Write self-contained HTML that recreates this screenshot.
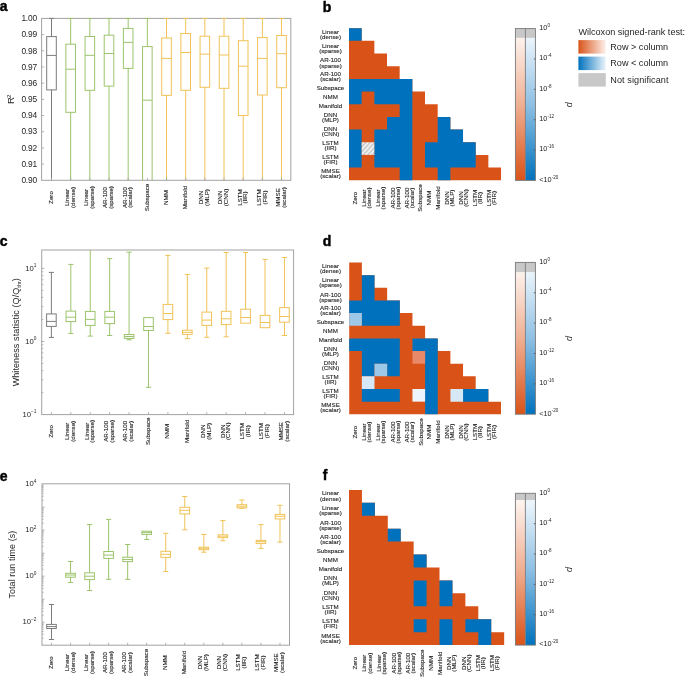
<!DOCTYPE html>
<html><head><meta charset="utf-8"><style>
html,body{margin:0;padding:0;background:#fff;width:685px;height:679px;overflow:hidden}
svg{display:block;font-family:"Liberation Sans", sans-serif;will-change:transform}
</style></head><body>
<svg width="685" height="679" viewBox="0 0 685 679">
<clipPath id="ca"><rect x="41.6" y="18.4" width="249.20000000000002" height="161.9"/></clipPath>
<g clip-path="url(#ca)" fill="none" stroke-width="1">
<line x1="51.50" y1="13.40" x2="51.50" y2="36.60" stroke="#7c7c7c"/>
<line x1="48.90" y1="13.40" x2="54.10" y2="13.40" stroke="#7c7c7c"/>
<line x1="51.50" y1="89.90" x2="51.50" y2="185.30" stroke="#7c7c7c"/>
<line x1="48.90" y1="185.30" x2="54.10" y2="185.30" stroke="#7c7c7c"/>
<rect x="46.70" y="36.60" width="9.60" height="53.30" stroke="#7c7c7c"/>
<line x1="46.70" y1="55.40" x2="56.30" y2="55.40" stroke="#7c7c7c"/>
<line x1="70.67" y1="13.40" x2="70.67" y2="44.20" stroke="#9cc46c"/>
<line x1="68.07" y1="13.40" x2="73.27" y2="13.40" stroke="#9cc46c"/>
<line x1="70.67" y1="112.30" x2="70.67" y2="185.30" stroke="#9cc46c"/>
<line x1="68.07" y1="185.30" x2="73.27" y2="185.30" stroke="#9cc46c"/>
<rect x="65.87" y="44.20" width="9.60" height="68.10" stroke="#9cc46c"/>
<line x1="65.87" y1="69.20" x2="75.47" y2="69.20" stroke="#9cc46c"/>
<line x1="89.84" y1="13.40" x2="89.84" y2="36.50" stroke="#9cc46c"/>
<line x1="87.24" y1="13.40" x2="92.44" y2="13.40" stroke="#9cc46c"/>
<line x1="89.84" y1="90.30" x2="89.84" y2="185.30" stroke="#9cc46c"/>
<line x1="87.24" y1="185.30" x2="92.44" y2="185.30" stroke="#9cc46c"/>
<rect x="85.04" y="36.50" width="9.60" height="53.80" stroke="#9cc46c"/>
<line x1="85.04" y1="55.30" x2="94.64" y2="55.30" stroke="#9cc46c"/>
<line x1="109.01" y1="13.40" x2="109.01" y2="35.20" stroke="#9cc46c"/>
<line x1="106.41" y1="13.40" x2="111.61" y2="13.40" stroke="#9cc46c"/>
<line x1="109.01" y1="86.10" x2="109.01" y2="185.30" stroke="#9cc46c"/>
<line x1="106.41" y1="185.30" x2="111.61" y2="185.30" stroke="#9cc46c"/>
<rect x="104.21" y="35.20" width="9.60" height="50.90" stroke="#9cc46c"/>
<line x1="104.21" y1="53.50" x2="113.81" y2="53.50" stroke="#9cc46c"/>
<line x1="128.18" y1="13.40" x2="128.18" y2="28.40" stroke="#9cc46c"/>
<line x1="125.58" y1="13.40" x2="130.78" y2="13.40" stroke="#9cc46c"/>
<line x1="128.18" y1="68.40" x2="128.18" y2="185.30" stroke="#9cc46c"/>
<line x1="125.58" y1="185.30" x2="130.78" y2="185.30" stroke="#9cc46c"/>
<rect x="123.38" y="28.40" width="9.60" height="40.00" stroke="#9cc46c"/>
<line x1="123.38" y1="42.40" x2="132.98" y2="42.40" stroke="#9cc46c"/>
<line x1="147.35" y1="13.40" x2="147.35" y2="46.60" stroke="#9cc46c"/>
<line x1="144.75" y1="13.40" x2="149.95" y2="13.40" stroke="#9cc46c"/>
<line x1="147.35" y1="200.00" x2="147.35" y2="185.30" stroke="#9cc46c"/>
<line x1="144.75" y1="185.30" x2="149.95" y2="185.30" stroke="#9cc46c"/>
<rect x="142.55" y="46.60" width="9.60" height="153.40" stroke="#9cc46c"/>
<line x1="142.55" y1="100.20" x2="152.15" y2="100.20" stroke="#9cc46c"/>
<line x1="166.52" y1="13.40" x2="166.52" y2="38.00" stroke="#f0c257"/>
<line x1="163.92" y1="13.40" x2="169.12" y2="13.40" stroke="#f0c257"/>
<line x1="166.52" y1="95.40" x2="166.52" y2="185.30" stroke="#f0c257"/>
<line x1="163.92" y1="185.30" x2="169.12" y2="185.30" stroke="#f0c257"/>
<rect x="161.72" y="38.00" width="9.60" height="57.40" stroke="#f0c257"/>
<line x1="161.72" y1="58.40" x2="171.32" y2="58.40" stroke="#f0c257"/>
<line x1="185.69" y1="13.40" x2="185.69" y2="33.50" stroke="#f0c257"/>
<line x1="183.09" y1="13.40" x2="188.29" y2="13.40" stroke="#f0c257"/>
<line x1="185.69" y1="90.30" x2="185.69" y2="185.30" stroke="#f0c257"/>
<line x1="183.09" y1="185.30" x2="188.29" y2="185.30" stroke="#f0c257"/>
<rect x="180.89" y="33.50" width="9.60" height="56.80" stroke="#f0c257"/>
<line x1="180.89" y1="52.50" x2="190.49" y2="52.50" stroke="#f0c257"/>
<line x1="204.86" y1="13.40" x2="204.86" y2="36.20" stroke="#f0c257"/>
<line x1="202.26" y1="13.40" x2="207.46" y2="13.40" stroke="#f0c257"/>
<line x1="204.86" y1="87.30" x2="204.86" y2="185.30" stroke="#f0c257"/>
<line x1="202.26" y1="185.30" x2="207.46" y2="185.30" stroke="#f0c257"/>
<rect x="200.06" y="36.20" width="9.60" height="51.10" stroke="#f0c257"/>
<line x1="200.06" y1="54.10" x2="209.66" y2="54.10" stroke="#f0c257"/>
<line x1="224.03" y1="13.40" x2="224.03" y2="36.20" stroke="#f0c257"/>
<line x1="221.43" y1="13.40" x2="226.63" y2="13.40" stroke="#f0c257"/>
<line x1="224.03" y1="88.30" x2="224.03" y2="185.30" stroke="#f0c257"/>
<line x1="221.43" y1="185.30" x2="226.63" y2="185.30" stroke="#f0c257"/>
<rect x="219.23" y="36.20" width="9.60" height="52.10" stroke="#f0c257"/>
<line x1="219.23" y1="55.00" x2="228.83" y2="55.00" stroke="#f0c257"/>
<line x1="243.20" y1="13.40" x2="243.20" y2="40.70" stroke="#f0c257"/>
<line x1="240.60" y1="13.40" x2="245.80" y2="13.40" stroke="#f0c257"/>
<line x1="243.20" y1="115.50" x2="243.20" y2="185.30" stroke="#f0c257"/>
<line x1="240.60" y1="185.30" x2="245.80" y2="185.30" stroke="#f0c257"/>
<rect x="238.40" y="40.70" width="9.60" height="74.80" stroke="#f0c257"/>
<line x1="238.40" y1="66.20" x2="248.00" y2="66.20" stroke="#f0c257"/>
<line x1="262.37" y1="13.40" x2="262.37" y2="37.60" stroke="#f0c257"/>
<line x1="259.77" y1="13.40" x2="264.97" y2="13.40" stroke="#f0c257"/>
<line x1="262.37" y1="95.00" x2="262.37" y2="185.30" stroke="#f0c257"/>
<line x1="259.77" y1="185.30" x2="264.97" y2="185.30" stroke="#f0c257"/>
<rect x="257.57" y="37.60" width="9.60" height="57.40" stroke="#f0c257"/>
<line x1="257.57" y1="58.40" x2="267.17" y2="58.40" stroke="#f0c257"/>
<line x1="281.54" y1="13.40" x2="281.54" y2="35.50" stroke="#f0c257"/>
<line x1="278.94" y1="13.40" x2="284.14" y2="13.40" stroke="#f0c257"/>
<line x1="281.54" y1="87.70" x2="281.54" y2="185.30" stroke="#f0c257"/>
<line x1="278.94" y1="185.30" x2="284.14" y2="185.30" stroke="#f0c257"/>
<rect x="276.74" y="35.50" width="9.60" height="52.20" stroke="#f0c257"/>
<line x1="276.74" y1="53.70" x2="286.34" y2="53.70" stroke="#f0c257"/>
</g>
<rect x="41.6" y="18.4" width="249.20000000000002" height="161.9" fill="none" stroke="#a2a2a2" stroke-width="1"/>
<line x1="51.50" y1="180.3" x2="51.50" y2="177.8" stroke="#a2a2a2" stroke-width="0.8"/>
<line x1="70.67" y1="180.3" x2="70.67" y2="177.8" stroke="#a2a2a2" stroke-width="0.8"/>
<line x1="89.84" y1="180.3" x2="89.84" y2="177.8" stroke="#a2a2a2" stroke-width="0.8"/>
<line x1="109.01" y1="180.3" x2="109.01" y2="177.8" stroke="#a2a2a2" stroke-width="0.8"/>
<line x1="128.18" y1="180.3" x2="128.18" y2="177.8" stroke="#a2a2a2" stroke-width="0.8"/>
<line x1="147.35" y1="180.3" x2="147.35" y2="177.8" stroke="#a2a2a2" stroke-width="0.8"/>
<line x1="166.52" y1="180.3" x2="166.52" y2="177.8" stroke="#a2a2a2" stroke-width="0.8"/>
<line x1="185.69" y1="180.3" x2="185.69" y2="177.8" stroke="#a2a2a2" stroke-width="0.8"/>
<line x1="204.86" y1="180.3" x2="204.86" y2="177.8" stroke="#a2a2a2" stroke-width="0.8"/>
<line x1="224.03" y1="180.3" x2="224.03" y2="177.8" stroke="#a2a2a2" stroke-width="0.8"/>
<line x1="243.20" y1="180.3" x2="243.20" y2="177.8" stroke="#a2a2a2" stroke-width="0.8"/>
<line x1="262.37" y1="180.3" x2="262.37" y2="177.8" stroke="#a2a2a2" stroke-width="0.8"/>
<line x1="281.54" y1="180.3" x2="281.54" y2="177.8" stroke="#a2a2a2" stroke-width="0.8"/>
<line x1="48.90" y1="18.40" x2="54.10" y2="18.40" stroke="#7c7c7c" stroke-width="1"/>
<line x1="68.07" y1="18.40" x2="73.27" y2="18.40" stroke="#9cc46c" stroke-width="1"/>
<line x1="87.24" y1="18.40" x2="92.44" y2="18.40" stroke="#9cc46c" stroke-width="1"/>
<line x1="106.41" y1="18.40" x2="111.61" y2="18.40" stroke="#9cc46c" stroke-width="1"/>
<line x1="125.58" y1="18.40" x2="130.78" y2="18.40" stroke="#9cc46c" stroke-width="1"/>
<line x1="144.75" y1="18.40" x2="149.95" y2="18.40" stroke="#9cc46c" stroke-width="1"/>
<line x1="163.92" y1="18.40" x2="169.12" y2="18.40" stroke="#f0c257" stroke-width="1"/>
<line x1="183.09" y1="18.40" x2="188.29" y2="18.40" stroke="#f0c257" stroke-width="1"/>
<line x1="202.26" y1="18.40" x2="207.46" y2="18.40" stroke="#f0c257" stroke-width="1"/>
<line x1="221.43" y1="18.40" x2="226.63" y2="18.40" stroke="#f0c257" stroke-width="1"/>
<line x1="240.60" y1="18.40" x2="245.80" y2="18.40" stroke="#f0c257" stroke-width="1"/>
<line x1="259.77" y1="18.40" x2="264.97" y2="18.40" stroke="#f0c257" stroke-width="1"/>
<line x1="278.94" y1="18.40" x2="284.14" y2="18.40" stroke="#f0c257" stroke-width="1"/>
<text x="36.90" y="21.15" font-size="8.4" text-anchor="end" font-weight="normal" fill="#262626" letter-spacing="-0.2">1.00</text>
<line x1="41.6" y1="34.59" x2="44.2" y2="34.59" stroke="#a2a2a2" stroke-width="0.8"/>
<text x="36.90" y="37.34" font-size="8.4" text-anchor="end" font-weight="normal" fill="#262626" letter-spacing="-0.2">0.99</text>
<line x1="41.6" y1="50.78" x2="44.2" y2="50.78" stroke="#a2a2a2" stroke-width="0.8"/>
<text x="36.90" y="53.53" font-size="8.4" text-anchor="end" font-weight="normal" fill="#262626" letter-spacing="-0.2">0.98</text>
<line x1="41.6" y1="66.97" x2="44.2" y2="66.97" stroke="#a2a2a2" stroke-width="0.8"/>
<text x="36.90" y="69.72" font-size="8.4" text-anchor="end" font-weight="normal" fill="#262626" letter-spacing="-0.2">0.97</text>
<line x1="41.6" y1="83.16" x2="44.2" y2="83.16" stroke="#a2a2a2" stroke-width="0.8"/>
<text x="36.90" y="85.91" font-size="8.4" text-anchor="end" font-weight="normal" fill="#262626" letter-spacing="-0.2">0.96</text>
<line x1="41.6" y1="99.35" x2="44.2" y2="99.35" stroke="#a2a2a2" stroke-width="0.8"/>
<text x="36.90" y="102.10" font-size="8.4" text-anchor="end" font-weight="normal" fill="#262626" letter-spacing="-0.2">0.95</text>
<line x1="41.6" y1="115.54" x2="44.2" y2="115.54" stroke="#a2a2a2" stroke-width="0.8"/>
<text x="36.90" y="118.29" font-size="8.4" text-anchor="end" font-weight="normal" fill="#262626" letter-spacing="-0.2">0.94</text>
<line x1="41.6" y1="131.73" x2="44.2" y2="131.73" stroke="#a2a2a2" stroke-width="0.8"/>
<text x="36.90" y="134.48" font-size="8.4" text-anchor="end" font-weight="normal" fill="#262626" letter-spacing="-0.2">0.93</text>
<line x1="41.6" y1="147.92" x2="44.2" y2="147.92" stroke="#a2a2a2" stroke-width="0.8"/>
<text x="36.90" y="150.67" font-size="8.4" text-anchor="end" font-weight="normal" fill="#262626" letter-spacing="-0.2">0.92</text>
<line x1="41.6" y1="164.11" x2="44.2" y2="164.11" stroke="#a2a2a2" stroke-width="0.8"/>
<text x="36.90" y="166.86" font-size="8.4" text-anchor="end" font-weight="normal" fill="#262626" letter-spacing="-0.2">0.91</text>
<text x="36.90" y="183.05" font-size="8.4" text-anchor="end" font-weight="normal" fill="#262626" letter-spacing="-0.2">0.90</text>
<text x="14.30" y="99.30" font-size="9.5" text-anchor="middle" font-weight="normal" fill="#262626" transform="rotate(-90 14.3 99.3)">R<tspan font-size="6.2" dx="-1" dy="-3.3">2</tspan></text>
<text x="52.74" y="197.50" font-size="6.2" text-anchor="middle" font-weight="normal" fill="#262626" transform="rotate(-90 52.74 197.5)" stroke="#262626" stroke-width="0.12">Zero</text>
<text x="69.01" y="197.50" font-size="6.2" text-anchor="middle" font-weight="normal" fill="#262626" transform="rotate(-90 69.00999999999999 197.5)" stroke="#262626" stroke-width="0.12">Linear</text>
<text x="74.81" y="197.50" font-size="6.2" text-anchor="middle" font-weight="normal" fill="#262626" transform="rotate(-90 74.81 197.5)" stroke="#262626" stroke-width="0.12">(dense)</text>
<text x="88.18" y="197.50" font-size="6.2" text-anchor="middle" font-weight="normal" fill="#262626" transform="rotate(-90 88.17999999999999 197.5)" stroke="#262626" stroke-width="0.12">Linear</text>
<text x="93.98" y="197.50" font-size="6.2" text-anchor="middle" font-weight="normal" fill="#262626" transform="rotate(-90 93.98 197.5)" stroke="#262626" stroke-width="0.12">(sparse)</text>
<text x="107.35" y="197.50" font-size="6.2" text-anchor="middle" font-weight="normal" fill="#262626" transform="rotate(-90 107.35 197.5)" stroke="#262626" stroke-width="0.12">AR-100</text>
<text x="113.15" y="197.50" font-size="6.2" text-anchor="middle" font-weight="normal" fill="#262626" transform="rotate(-90 113.15 197.5)" stroke="#262626" stroke-width="0.12">(sparse)</text>
<text x="126.52" y="197.50" font-size="6.2" text-anchor="middle" font-weight="normal" fill="#262626" transform="rotate(-90 126.52 197.5)" stroke="#262626" stroke-width="0.12">AR-100</text>
<text x="132.32" y="197.50" font-size="6.2" text-anchor="middle" font-weight="normal" fill="#262626" transform="rotate(-90 132.32000000000002 197.5)" stroke="#262626" stroke-width="0.12">(scalar)</text>
<text x="148.59" y="197.50" font-size="6.2" text-anchor="middle" font-weight="normal" fill="#262626" transform="rotate(-90 148.59000000000003 197.5)" stroke="#262626" stroke-width="0.12">Subspace</text>
<text x="167.76" y="197.50" font-size="6.2" text-anchor="middle" font-weight="normal" fill="#262626" transform="rotate(-90 167.76000000000002 197.5)" stroke="#262626" stroke-width="0.12">NMM</text>
<text x="186.93" y="197.50" font-size="6.2" text-anchor="middle" font-weight="normal" fill="#262626" transform="rotate(-90 186.93 197.5)" stroke="#262626" stroke-width="0.12">Manifold</text>
<text x="203.20" y="197.50" font-size="6.2" text-anchor="middle" font-weight="normal" fill="#262626" transform="rotate(-90 203.20000000000002 197.5)" stroke="#262626" stroke-width="0.12">DNN</text>
<text x="209.00" y="197.50" font-size="6.2" text-anchor="middle" font-weight="normal" fill="#262626" transform="rotate(-90 209.00000000000003 197.5)" stroke="#262626" stroke-width="0.12">(MLP)</text>
<text x="222.37" y="197.50" font-size="6.2" text-anchor="middle" font-weight="normal" fill="#262626" transform="rotate(-90 222.37000000000003 197.5)" stroke="#262626" stroke-width="0.12">DNN</text>
<text x="228.17" y="197.50" font-size="6.2" text-anchor="middle" font-weight="normal" fill="#262626" transform="rotate(-90 228.17000000000004 197.5)" stroke="#262626" stroke-width="0.12">(CNN)</text>
<text x="241.54" y="197.50" font-size="6.2" text-anchor="middle" font-weight="normal" fill="#262626" transform="rotate(-90 241.54000000000002 197.5)" stroke="#262626" stroke-width="0.12">LSTM</text>
<text x="247.34" y="197.50" font-size="6.2" text-anchor="middle" font-weight="normal" fill="#262626" transform="rotate(-90 247.34000000000003 197.5)" stroke="#262626" stroke-width="0.12">(IIR)</text>
<text x="260.71" y="197.50" font-size="6.2" text-anchor="middle" font-weight="normal" fill="#262626" transform="rotate(-90 260.71000000000004 197.5)" stroke="#262626" stroke-width="0.12">LSTM</text>
<text x="266.51" y="197.50" font-size="6.2" text-anchor="middle" font-weight="normal" fill="#262626" transform="rotate(-90 266.51 197.5)" stroke="#262626" stroke-width="0.12">(FIR)</text>
<text x="279.88" y="197.50" font-size="6.2" text-anchor="middle" font-weight="normal" fill="#262626" transform="rotate(-90 279.88000000000005 197.5)" stroke="#262626" stroke-width="0.12">MMSE</text>
<text x="285.68" y="197.50" font-size="6.2" text-anchor="middle" font-weight="normal" fill="#262626" transform="rotate(-90 285.68 197.5)" stroke="#262626" stroke-width="0.12">(scalar)</text>
<clipPath id="cc"><rect x="41.7" y="250.0" width="251.90000000000003" height="164.60000000000002"/></clipPath>
<g clip-path="url(#cc)" fill="none" stroke-width="1">
<line x1="51.40" y1="272.40" x2="51.40" y2="313.90" stroke="#7c7c7c"/>
<line x1="48.80" y1="272.40" x2="54.00" y2="272.40" stroke="#7c7c7c"/>
<line x1="51.40" y1="326.40" x2="51.40" y2="337.40" stroke="#7c7c7c"/>
<line x1="48.80" y1="337.40" x2="54.00" y2="337.40" stroke="#7c7c7c"/>
<rect x="46.60" y="313.90" width="9.60" height="12.50" stroke="#7c7c7c"/>
<line x1="46.60" y1="321.40" x2="56.20" y2="321.40" stroke="#7c7c7c"/>
<line x1="70.82" y1="264.40" x2="70.82" y2="311.10" stroke="#9cc46c"/>
<line x1="68.22" y1="264.40" x2="73.42" y2="264.40" stroke="#9cc46c"/>
<line x1="70.82" y1="321.60" x2="70.82" y2="333.40" stroke="#9cc46c"/>
<line x1="68.22" y1="333.40" x2="73.42" y2="333.40" stroke="#9cc46c"/>
<rect x="66.02" y="311.10" width="9.60" height="10.50" stroke="#9cc46c"/>
<line x1="66.02" y1="317.20" x2="75.62" y2="317.20" stroke="#9cc46c"/>
<line x1="90.24" y1="245.00" x2="90.24" y2="311.40" stroke="#9cc46c"/>
<line x1="87.64" y1="245.00" x2="92.84" y2="245.00" stroke="#9cc46c"/>
<line x1="90.24" y1="325.40" x2="90.24" y2="336.10" stroke="#9cc46c"/>
<line x1="87.64" y1="336.10" x2="92.84" y2="336.10" stroke="#9cc46c"/>
<rect x="85.44" y="311.40" width="9.60" height="14.00" stroke="#9cc46c"/>
<line x1="85.44" y1="319.40" x2="95.04" y2="319.40" stroke="#9cc46c"/>
<line x1="109.66" y1="258.60" x2="109.66" y2="311.40" stroke="#9cc46c"/>
<line x1="107.06" y1="258.60" x2="112.26" y2="258.60" stroke="#9cc46c"/>
<line x1="109.66" y1="323.60" x2="109.66" y2="335.50" stroke="#9cc46c"/>
<line x1="107.06" y1="335.50" x2="112.26" y2="335.50" stroke="#9cc46c"/>
<rect x="104.86" y="311.40" width="9.60" height="12.20" stroke="#9cc46c"/>
<line x1="104.86" y1="317.20" x2="114.46" y2="317.20" stroke="#9cc46c"/>
<line x1="129.08" y1="252.20" x2="129.08" y2="334.50" stroke="#9cc46c"/>
<line x1="126.48" y1="252.20" x2="131.68" y2="252.20" stroke="#9cc46c"/>
<line x1="129.08" y1="338.40" x2="129.08" y2="339.80" stroke="#9cc46c"/>
<line x1="126.48" y1="339.80" x2="131.68" y2="339.80" stroke="#9cc46c"/>
<rect x="124.28" y="334.50" width="9.60" height="3.90" stroke="#9cc46c"/>
<line x1="124.28" y1="336.50" x2="133.88" y2="336.50" stroke="#9cc46c"/>
<line x1="148.50" y1="330.50" x2="148.50" y2="387.30" stroke="#9cc46c"/>
<line x1="145.90" y1="387.30" x2="151.10" y2="387.30" stroke="#9cc46c"/>
<rect x="143.70" y="317.60" width="9.60" height="12.90" stroke="#9cc46c"/>
<line x1="143.70" y1="326.50" x2="153.30" y2="326.50" stroke="#9cc46c"/>
<line x1="167.92" y1="255.40" x2="167.92" y2="304.40" stroke="#f0c257"/>
<line x1="165.32" y1="255.40" x2="170.52" y2="255.40" stroke="#f0c257"/>
<line x1="167.92" y1="319.60" x2="167.92" y2="333.30" stroke="#f0c257"/>
<line x1="165.32" y1="333.30" x2="170.52" y2="333.30" stroke="#f0c257"/>
<rect x="163.12" y="304.40" width="9.60" height="15.20" stroke="#f0c257"/>
<line x1="163.12" y1="313.50" x2="172.72" y2="313.50" stroke="#f0c257"/>
<line x1="187.34" y1="274.50" x2="187.34" y2="330.20" stroke="#f0c257"/>
<line x1="184.74" y1="274.50" x2="189.94" y2="274.50" stroke="#f0c257"/>
<line x1="187.34" y1="334.40" x2="187.34" y2="338.60" stroke="#f0c257"/>
<line x1="184.74" y1="338.60" x2="189.94" y2="338.60" stroke="#f0c257"/>
<rect x="182.54" y="330.20" width="9.60" height="4.20" stroke="#f0c257"/>
<line x1="182.54" y1="332.30" x2="192.14" y2="332.30" stroke="#f0c257"/>
<line x1="206.76" y1="268.10" x2="206.76" y2="312.10" stroke="#f0c257"/>
<line x1="204.16" y1="268.10" x2="209.36" y2="268.10" stroke="#f0c257"/>
<line x1="206.76" y1="325.40" x2="206.76" y2="337.30" stroke="#f0c257"/>
<line x1="204.16" y1="337.30" x2="209.36" y2="337.30" stroke="#f0c257"/>
<rect x="201.96" y="312.10" width="9.60" height="13.30" stroke="#f0c257"/>
<line x1="201.96" y1="320.10" x2="211.56" y2="320.10" stroke="#f0c257"/>
<line x1="226.18" y1="252.50" x2="226.18" y2="311.30" stroke="#f0c257"/>
<line x1="223.58" y1="252.50" x2="228.78" y2="252.50" stroke="#f0c257"/>
<line x1="226.18" y1="324.60" x2="226.18" y2="336.80" stroke="#f0c257"/>
<line x1="223.58" y1="336.80" x2="228.78" y2="336.80" stroke="#f0c257"/>
<rect x="221.38" y="311.30" width="9.60" height="13.30" stroke="#f0c257"/>
<line x1="221.38" y1="318.80" x2="230.98" y2="318.80" stroke="#f0c257"/>
<line x1="245.60" y1="252.50" x2="245.60" y2="309.20" stroke="#f0c257"/>
<line x1="243.00" y1="252.50" x2="248.20" y2="252.50" stroke="#f0c257"/>
<rect x="240.80" y="309.20" width="9.60" height="14.00" stroke="#f0c257"/>
<line x1="240.80" y1="317.50" x2="250.40" y2="317.50" stroke="#f0c257"/>
<line x1="265.02" y1="259.40" x2="265.02" y2="315.40" stroke="#f0c257"/>
<line x1="262.42" y1="259.40" x2="267.62" y2="259.40" stroke="#f0c257"/>
<rect x="260.22" y="315.40" width="9.60" height="12.30" stroke="#f0c257"/>
<line x1="260.22" y1="322.50" x2="269.82" y2="322.50" stroke="#f0c257"/>
<line x1="284.44" y1="257.50" x2="284.44" y2="307.60" stroke="#f0c257"/>
<line x1="281.84" y1="257.50" x2="287.04" y2="257.50" stroke="#f0c257"/>
<line x1="284.44" y1="322.20" x2="284.44" y2="335.50" stroke="#f0c257"/>
<line x1="281.84" y1="335.50" x2="287.04" y2="335.50" stroke="#f0c257"/>
<rect x="279.64" y="307.60" width="9.60" height="14.60" stroke="#f0c257"/>
<line x1="279.64" y1="316.50" x2="289.24" y2="316.50" stroke="#f0c257"/>
</g>
<rect x="41.7" y="250.0" width="251.90000000000003" height="164.60000000000002" fill="none" stroke="#a2a2a2" stroke-width="1"/>
<line x1="51.40" y1="414.6" x2="51.40" y2="412.1" stroke="#a2a2a2" stroke-width="0.8"/>
<line x1="70.82" y1="414.6" x2="70.82" y2="412.1" stroke="#a2a2a2" stroke-width="0.8"/>
<line x1="90.24" y1="414.6" x2="90.24" y2="412.1" stroke="#a2a2a2" stroke-width="0.8"/>
<line x1="109.66" y1="414.6" x2="109.66" y2="412.1" stroke="#a2a2a2" stroke-width="0.8"/>
<line x1="129.08" y1="414.6" x2="129.08" y2="412.1" stroke="#a2a2a2" stroke-width="0.8"/>
<line x1="148.50" y1="414.6" x2="148.50" y2="412.1" stroke="#a2a2a2" stroke-width="0.8"/>
<line x1="167.92" y1="414.6" x2="167.92" y2="412.1" stroke="#a2a2a2" stroke-width="0.8"/>
<line x1="187.34" y1="414.6" x2="187.34" y2="412.1" stroke="#a2a2a2" stroke-width="0.8"/>
<line x1="206.76" y1="414.6" x2="206.76" y2="412.1" stroke="#a2a2a2" stroke-width="0.8"/>
<line x1="226.18" y1="414.6" x2="226.18" y2="412.1" stroke="#a2a2a2" stroke-width="0.8"/>
<line x1="245.60" y1="414.6" x2="245.60" y2="412.1" stroke="#a2a2a2" stroke-width="0.8"/>
<line x1="265.02" y1="414.6" x2="265.02" y2="412.1" stroke="#a2a2a2" stroke-width="0.8"/>
<line x1="284.44" y1="414.6" x2="284.44" y2="412.1" stroke="#a2a2a2" stroke-width="0.8"/>
<line x1="41.7" y1="392.59" x2="43.300000000000004" y2="392.59" stroke="#a2a2a2" stroke-width="0.8"/>
<line x1="41.7" y1="379.72" x2="43.300000000000004" y2="379.72" stroke="#a2a2a2" stroke-width="0.8"/>
<line x1="41.7" y1="370.59" x2="43.300000000000004" y2="370.59" stroke="#a2a2a2" stroke-width="0.8"/>
<line x1="41.7" y1="363.51" x2="43.300000000000004" y2="363.51" stroke="#a2a2a2" stroke-width="0.8"/>
<line x1="41.7" y1="357.72" x2="43.300000000000004" y2="357.72" stroke="#a2a2a2" stroke-width="0.8"/>
<line x1="41.7" y1="352.82" x2="43.300000000000004" y2="352.82" stroke="#a2a2a2" stroke-width="0.8"/>
<line x1="41.7" y1="348.58" x2="43.300000000000004" y2="348.58" stroke="#a2a2a2" stroke-width="0.8"/>
<line x1="41.7" y1="344.84" x2="43.300000000000004" y2="344.84" stroke="#a2a2a2" stroke-width="0.8"/>
<line x1="41.7" y1="341.50" x2="44.300000000000004" y2="341.50" stroke="#a2a2a2" stroke-width="0.8"/>
<line x1="41.7" y1="319.49" x2="43.300000000000004" y2="319.49" stroke="#a2a2a2" stroke-width="0.8"/>
<line x1="41.7" y1="306.62" x2="43.300000000000004" y2="306.62" stroke="#a2a2a2" stroke-width="0.8"/>
<line x1="41.7" y1="297.49" x2="43.300000000000004" y2="297.49" stroke="#a2a2a2" stroke-width="0.8"/>
<line x1="41.7" y1="290.41" x2="43.300000000000004" y2="290.41" stroke="#a2a2a2" stroke-width="0.8"/>
<line x1="41.7" y1="284.62" x2="43.300000000000004" y2="284.62" stroke="#a2a2a2" stroke-width="0.8"/>
<line x1="41.7" y1="279.72" x2="43.300000000000004" y2="279.72" stroke="#a2a2a2" stroke-width="0.8"/>
<line x1="41.7" y1="275.48" x2="43.300000000000004" y2="275.48" stroke="#a2a2a2" stroke-width="0.8"/>
<line x1="41.7" y1="271.74" x2="43.300000000000004" y2="271.74" stroke="#a2a2a2" stroke-width="0.8"/>
<line x1="41.7" y1="268.40" x2="44.300000000000004" y2="268.40" stroke="#a2a2a2" stroke-width="0.8"/>
<text x="36.50" y="270.60" font-size="7.7" text-anchor="end" font-weight="normal" fill="#262626">10<tspan font-size="4.8" dy="-3.4">1</tspan></text>
<text x="36.50" y="343.70" font-size="7.7" text-anchor="end" font-weight="normal" fill="#262626">10<tspan font-size="4.8" dy="-3.4">0</tspan></text>
<text x="36.50" y="416.80" font-size="7.7" text-anchor="end" font-weight="normal" fill="#262626">10<tspan font-size="4.8" dy="-3.4">&#8722;1</tspan></text>
<text x="18.70" y="332.20" font-size="9.0" text-anchor="middle" font-weight="normal" fill="#262626" transform="rotate(-90 18.7 332.2)" letter-spacing="0.09">Whiteness statistic (Q/Q<tspan font-size="5.4" dy="1.8">thr</tspan><tspan dy="-1.8">)</tspan></text>
<text x="52.64" y="431.30" font-size="6.2" text-anchor="middle" font-weight="normal" fill="#262626" transform="rotate(-90 52.64 431.3)" stroke="#262626" stroke-width="0.12">Zero</text>
<text x="69.16" y="431.30" font-size="6.2" text-anchor="middle" font-weight="normal" fill="#262626" transform="rotate(-90 69.15999999999998 431.3)" stroke="#262626" stroke-width="0.12">Linear</text>
<text x="74.96" y="431.30" font-size="6.2" text-anchor="middle" font-weight="normal" fill="#262626" transform="rotate(-90 74.96 431.3)" stroke="#262626" stroke-width="0.12">(dense)</text>
<text x="88.58" y="431.30" font-size="6.2" text-anchor="middle" font-weight="normal" fill="#262626" transform="rotate(-90 88.58 431.3)" stroke="#262626" stroke-width="0.12">Linear</text>
<text x="94.38" y="431.30" font-size="6.2" text-anchor="middle" font-weight="normal" fill="#262626" transform="rotate(-90 94.38000000000001 431.3)" stroke="#262626" stroke-width="0.12">(sparse)</text>
<text x="108.00" y="431.30" font-size="6.2" text-anchor="middle" font-weight="normal" fill="#262626" transform="rotate(-90 107.99999999999999 431.3)" stroke="#262626" stroke-width="0.12">AR-100</text>
<text x="113.80" y="431.30" font-size="6.2" text-anchor="middle" font-weight="normal" fill="#262626" transform="rotate(-90 113.8 431.3)" stroke="#262626" stroke-width="0.12">(sparse)</text>
<text x="127.42" y="431.30" font-size="6.2" text-anchor="middle" font-weight="normal" fill="#262626" transform="rotate(-90 127.42 431.3)" stroke="#262626" stroke-width="0.12">AR-100</text>
<text x="133.22" y="431.30" font-size="6.2" text-anchor="middle" font-weight="normal" fill="#262626" transform="rotate(-90 133.22000000000003 431.3)" stroke="#262626" stroke-width="0.12">(scalar)</text>
<text x="149.74" y="431.30" font-size="6.2" text-anchor="middle" font-weight="normal" fill="#262626" transform="rotate(-90 149.74 431.3)" stroke="#262626" stroke-width="0.12">Subspace</text>
<text x="169.16" y="431.30" font-size="6.2" text-anchor="middle" font-weight="normal" fill="#262626" transform="rotate(-90 169.16000000000003 431.3)" stroke="#262626" stroke-width="0.12">NMM</text>
<text x="188.58" y="431.30" font-size="6.2" text-anchor="middle" font-weight="normal" fill="#262626" transform="rotate(-90 188.58 431.3)" stroke="#262626" stroke-width="0.12">Manifold</text>
<text x="205.10" y="431.30" font-size="6.2" text-anchor="middle" font-weight="normal" fill="#262626" transform="rotate(-90 205.10000000000002 431.3)" stroke="#262626" stroke-width="0.12">DNN</text>
<text x="210.90" y="431.30" font-size="6.2" text-anchor="middle" font-weight="normal" fill="#262626" transform="rotate(-90 210.90000000000003 431.3)" stroke="#262626" stroke-width="0.12">(MLP)</text>
<text x="224.52" y="431.30" font-size="6.2" text-anchor="middle" font-weight="normal" fill="#262626" transform="rotate(-90 224.52000000000004 431.3)" stroke="#262626" stroke-width="0.12">DNN</text>
<text x="230.32" y="431.30" font-size="6.2" text-anchor="middle" font-weight="normal" fill="#262626" transform="rotate(-90 230.32000000000005 431.3)" stroke="#262626" stroke-width="0.12">(CNN)</text>
<text x="243.94" y="431.30" font-size="6.2" text-anchor="middle" font-weight="normal" fill="#262626" transform="rotate(-90 243.94000000000003 431.3)" stroke="#262626" stroke-width="0.12">LSTM</text>
<text x="249.74" y="431.30" font-size="6.2" text-anchor="middle" font-weight="normal" fill="#262626" transform="rotate(-90 249.74000000000004 431.3)" stroke="#262626" stroke-width="0.12">(IIR)</text>
<text x="263.36" y="431.30" font-size="6.2" text-anchor="middle" font-weight="normal" fill="#262626" transform="rotate(-90 263.36 431.3)" stroke="#262626" stroke-width="0.12">LSTM</text>
<text x="269.16" y="431.30" font-size="6.2" text-anchor="middle" font-weight="normal" fill="#262626" transform="rotate(-90 269.15999999999997 431.3)" stroke="#262626" stroke-width="0.12">(FIR)</text>
<text x="282.78" y="431.30" font-size="6.2" text-anchor="middle" font-weight="normal" fill="#262626" transform="rotate(-90 282.78000000000003 431.3)" stroke="#262626" stroke-width="0.12">MMSE</text>
<text x="288.58" y="431.30" font-size="6.2" text-anchor="middle" font-weight="normal" fill="#262626" transform="rotate(-90 288.58 431.3)" stroke="#262626" stroke-width="0.12">(scalar)</text>
<clipPath id="ce"><rect x="42.0" y="483.8" width="247.5" height="161.40000000000003"/></clipPath>
<g clip-path="url(#ce)" fill="none" stroke-width="1">
<line x1="51.50" y1="604.50" x2="51.50" y2="624.40" stroke="#7c7c7c"/>
<line x1="48.90" y1="604.50" x2="54.10" y2="604.50" stroke="#7c7c7c"/>
<line x1="51.50" y1="628.50" x2="51.50" y2="639.50" stroke="#7c7c7c"/>
<line x1="48.90" y1="639.50" x2="54.10" y2="639.50" stroke="#7c7c7c"/>
<rect x="46.70" y="624.40" width="9.60" height="4.10" stroke="#7c7c7c"/>
<line x1="46.70" y1="626.60" x2="56.30" y2="626.60" stroke="#7c7c7c"/>
<line x1="70.54" y1="561.50" x2="70.54" y2="573.30" stroke="#9cc46c"/>
<line x1="67.94" y1="561.50" x2="73.14" y2="561.50" stroke="#9cc46c"/>
<line x1="70.54" y1="577.20" x2="70.54" y2="582.40" stroke="#9cc46c"/>
<line x1="67.94" y1="582.40" x2="73.14" y2="582.40" stroke="#9cc46c"/>
<rect x="65.74" y="573.30" width="9.60" height="3.90" stroke="#9cc46c"/>
<line x1="65.74" y1="575.00" x2="75.34" y2="575.00" stroke="#9cc46c"/>
<line x1="89.58" y1="524.50" x2="89.58" y2="572.80" stroke="#9cc46c"/>
<line x1="86.98" y1="524.50" x2="92.18" y2="524.50" stroke="#9cc46c"/>
<line x1="89.58" y1="579.60" x2="89.58" y2="590.50" stroke="#9cc46c"/>
<line x1="86.98" y1="590.50" x2="92.18" y2="590.50" stroke="#9cc46c"/>
<rect x="84.78" y="572.80" width="9.60" height="6.80" stroke="#9cc46c"/>
<line x1="84.78" y1="576.20" x2="94.38" y2="576.20" stroke="#9cc46c"/>
<line x1="108.62" y1="519.40" x2="108.62" y2="551.50" stroke="#9cc46c"/>
<line x1="106.02" y1="519.40" x2="111.22" y2="519.40" stroke="#9cc46c"/>
<line x1="108.62" y1="558.40" x2="108.62" y2="579.30" stroke="#9cc46c"/>
<line x1="106.02" y1="579.30" x2="111.22" y2="579.30" stroke="#9cc46c"/>
<rect x="103.82" y="551.50" width="9.60" height="6.90" stroke="#9cc46c"/>
<line x1="103.82" y1="555.10" x2="113.42" y2="555.10" stroke="#9cc46c"/>
<line x1="127.66" y1="544.50" x2="127.66" y2="557.20" stroke="#9cc46c"/>
<line x1="125.06" y1="544.50" x2="130.26" y2="544.50" stroke="#9cc46c"/>
<line x1="127.66" y1="561.60" x2="127.66" y2="579.30" stroke="#9cc46c"/>
<line x1="125.06" y1="579.30" x2="130.26" y2="579.30" stroke="#9cc46c"/>
<rect x="122.86" y="557.20" width="9.60" height="4.40" stroke="#9cc46c"/>
<line x1="122.86" y1="559.50" x2="132.46" y2="559.50" stroke="#9cc46c"/>
<line x1="146.70" y1="534.40" x2="146.70" y2="539.50" stroke="#9cc46c"/>
<line x1="144.10" y1="539.50" x2="149.30" y2="539.50" stroke="#9cc46c"/>
<rect x="141.90" y="531.20" width="9.60" height="3.20" stroke="#9cc46c"/>
<line x1="141.90" y1="532.60" x2="151.50" y2="532.60" stroke="#9cc46c"/>
<line x1="165.74" y1="533.30" x2="165.74" y2="551.30" stroke="#f0c257"/>
<line x1="163.14" y1="533.30" x2="168.34" y2="533.30" stroke="#f0c257"/>
<line x1="165.74" y1="557.40" x2="165.74" y2="571.50" stroke="#f0c257"/>
<line x1="163.14" y1="571.50" x2="168.34" y2="571.50" stroke="#f0c257"/>
<rect x="160.94" y="551.30" width="9.60" height="6.10" stroke="#f0c257"/>
<line x1="160.94" y1="554.30" x2="170.54" y2="554.30" stroke="#f0c257"/>
<line x1="184.78" y1="496.50" x2="184.78" y2="507.30" stroke="#f0c257"/>
<line x1="182.18" y1="496.50" x2="187.38" y2="496.50" stroke="#f0c257"/>
<line x1="184.78" y1="513.90" x2="184.78" y2="529.80" stroke="#f0c257"/>
<line x1="182.18" y1="529.80" x2="187.38" y2="529.80" stroke="#f0c257"/>
<rect x="179.98" y="507.30" width="9.60" height="6.60" stroke="#f0c257"/>
<line x1="179.98" y1="510.30" x2="189.58" y2="510.30" stroke="#f0c257"/>
<line x1="203.82" y1="534.40" x2="203.82" y2="547.20" stroke="#f0c257"/>
<line x1="201.22" y1="534.40" x2="206.42" y2="534.40" stroke="#f0c257"/>
<line x1="203.82" y1="549.70" x2="203.82" y2="552.20" stroke="#f0c257"/>
<line x1="201.22" y1="552.20" x2="206.42" y2="552.20" stroke="#f0c257"/>
<rect x="199.02" y="547.20" width="9.60" height="2.50" stroke="#f0c257"/>
<line x1="199.02" y1="548.30" x2="208.62" y2="548.30" stroke="#f0c257"/>
<line x1="222.86" y1="520.60" x2="222.86" y2="534.80" stroke="#f0c257"/>
<line x1="220.26" y1="520.60" x2="225.46" y2="520.60" stroke="#f0c257"/>
<line x1="222.86" y1="537.70" x2="222.86" y2="540.70" stroke="#f0c257"/>
<line x1="220.26" y1="540.70" x2="225.46" y2="540.70" stroke="#f0c257"/>
<rect x="218.06" y="534.80" width="9.60" height="2.90" stroke="#f0c257"/>
<line x1="218.06" y1="536.20" x2="227.66" y2="536.20" stroke="#f0c257"/>
<line x1="241.90" y1="500.00" x2="241.90" y2="504.70" stroke="#f0c257"/>
<line x1="239.30" y1="500.00" x2="244.50" y2="500.00" stroke="#f0c257"/>
<line x1="241.90" y1="507.90" x2="241.90" y2="508.30" stroke="#f0c257"/>
<line x1="239.30" y1="508.30" x2="244.50" y2="508.30" stroke="#f0c257"/>
<rect x="237.10" y="504.70" width="9.60" height="3.20" stroke="#f0c257"/>
<line x1="237.10" y1="506.20" x2="246.70" y2="506.20" stroke="#f0c257"/>
<line x1="260.94" y1="524.60" x2="260.94" y2="540.40" stroke="#f0c257"/>
<line x1="258.34" y1="524.60" x2="263.54" y2="524.60" stroke="#f0c257"/>
<line x1="260.94" y1="543.40" x2="260.94" y2="548.40" stroke="#f0c257"/>
<line x1="258.34" y1="548.40" x2="263.54" y2="548.40" stroke="#f0c257"/>
<rect x="256.14" y="540.40" width="9.60" height="3.00" stroke="#f0c257"/>
<line x1="256.14" y1="541.70" x2="265.74" y2="541.70" stroke="#f0c257"/>
<line x1="279.98" y1="505.30" x2="279.98" y2="514.40" stroke="#f0c257"/>
<line x1="277.38" y1="505.30" x2="282.58" y2="505.30" stroke="#f0c257"/>
<line x1="279.98" y1="518.90" x2="279.98" y2="542.10" stroke="#f0c257"/>
<line x1="277.38" y1="542.10" x2="282.58" y2="542.10" stroke="#f0c257"/>
<rect x="275.18" y="514.40" width="9.60" height="4.50" stroke="#f0c257"/>
<line x1="275.18" y1="516.30" x2="284.78" y2="516.30" stroke="#f0c257"/>
</g>
<rect x="42.0" y="483.8" width="247.5" height="161.40000000000003" fill="none" stroke="#a2a2a2" stroke-width="1"/>
<line x1="51.50" y1="645.2" x2="51.50" y2="642.7" stroke="#a2a2a2" stroke-width="0.8"/>
<line x1="70.54" y1="645.2" x2="70.54" y2="642.7" stroke="#a2a2a2" stroke-width="0.8"/>
<line x1="89.58" y1="645.2" x2="89.58" y2="642.7" stroke="#a2a2a2" stroke-width="0.8"/>
<line x1="108.62" y1="645.2" x2="108.62" y2="642.7" stroke="#a2a2a2" stroke-width="0.8"/>
<line x1="127.66" y1="645.2" x2="127.66" y2="642.7" stroke="#a2a2a2" stroke-width="0.8"/>
<line x1="146.70" y1="645.2" x2="146.70" y2="642.7" stroke="#a2a2a2" stroke-width="0.8"/>
<line x1="165.74" y1="645.2" x2="165.74" y2="642.7" stroke="#a2a2a2" stroke-width="0.8"/>
<line x1="184.78" y1="645.2" x2="184.78" y2="642.7" stroke="#a2a2a2" stroke-width="0.8"/>
<line x1="203.82" y1="645.2" x2="203.82" y2="642.7" stroke="#a2a2a2" stroke-width="0.8"/>
<line x1="222.86" y1="645.2" x2="222.86" y2="642.7" stroke="#a2a2a2" stroke-width="0.8"/>
<line x1="241.90" y1="645.2" x2="241.90" y2="642.7" stroke="#a2a2a2" stroke-width="0.8"/>
<line x1="260.94" y1="645.2" x2="260.94" y2="642.7" stroke="#a2a2a2" stroke-width="0.8"/>
<line x1="279.98" y1="645.2" x2="279.98" y2="642.7" stroke="#a2a2a2" stroke-width="0.8"/>
<line x1="42.0" y1="638.28" x2="43.6" y2="638.28" stroke="#a2a2a2" stroke-width="0.8"/>
<line x1="42.0" y1="634.23" x2="43.6" y2="634.23" stroke="#a2a2a2" stroke-width="0.8"/>
<line x1="42.0" y1="631.35" x2="43.6" y2="631.35" stroke="#a2a2a2" stroke-width="0.8"/>
<line x1="42.0" y1="629.12" x2="43.6" y2="629.12" stroke="#a2a2a2" stroke-width="0.8"/>
<line x1="42.0" y1="627.30" x2="43.6" y2="627.30" stroke="#a2a2a2" stroke-width="0.8"/>
<line x1="42.0" y1="625.76" x2="43.6" y2="625.76" stroke="#a2a2a2" stroke-width="0.8"/>
<line x1="42.0" y1="624.43" x2="43.6" y2="624.43" stroke="#a2a2a2" stroke-width="0.8"/>
<line x1="42.0" y1="623.25" x2="43.6" y2="623.25" stroke="#a2a2a2" stroke-width="0.8"/>
<line x1="42.0" y1="622.20" x2="44.6" y2="622.20" stroke="#a2a2a2" stroke-width="0.8"/>
<line x1="42.0" y1="615.28" x2="43.6" y2="615.28" stroke="#a2a2a2" stroke-width="0.8"/>
<line x1="42.0" y1="611.23" x2="43.6" y2="611.23" stroke="#a2a2a2" stroke-width="0.8"/>
<line x1="42.0" y1="608.35" x2="43.6" y2="608.35" stroke="#a2a2a2" stroke-width="0.8"/>
<line x1="42.0" y1="606.12" x2="43.6" y2="606.12" stroke="#a2a2a2" stroke-width="0.8"/>
<line x1="42.0" y1="604.30" x2="43.6" y2="604.30" stroke="#a2a2a2" stroke-width="0.8"/>
<line x1="42.0" y1="602.76" x2="43.6" y2="602.76" stroke="#a2a2a2" stroke-width="0.8"/>
<line x1="42.0" y1="601.43" x2="43.6" y2="601.43" stroke="#a2a2a2" stroke-width="0.8"/>
<line x1="42.0" y1="600.25" x2="43.6" y2="600.25" stroke="#a2a2a2" stroke-width="0.8"/>
<line x1="42.0" y1="599.20" x2="44.6" y2="599.20" stroke="#a2a2a2" stroke-width="0.8"/>
<line x1="42.0" y1="592.28" x2="43.6" y2="592.28" stroke="#a2a2a2" stroke-width="0.8"/>
<line x1="42.0" y1="588.23" x2="43.6" y2="588.23" stroke="#a2a2a2" stroke-width="0.8"/>
<line x1="42.0" y1="585.35" x2="43.6" y2="585.35" stroke="#a2a2a2" stroke-width="0.8"/>
<line x1="42.0" y1="583.12" x2="43.6" y2="583.12" stroke="#a2a2a2" stroke-width="0.8"/>
<line x1="42.0" y1="581.30" x2="43.6" y2="581.30" stroke="#a2a2a2" stroke-width="0.8"/>
<line x1="42.0" y1="579.76" x2="43.6" y2="579.76" stroke="#a2a2a2" stroke-width="0.8"/>
<line x1="42.0" y1="578.43" x2="43.6" y2="578.43" stroke="#a2a2a2" stroke-width="0.8"/>
<line x1="42.0" y1="577.25" x2="43.6" y2="577.25" stroke="#a2a2a2" stroke-width="0.8"/>
<line x1="42.0" y1="576.20" x2="44.6" y2="576.20" stroke="#a2a2a2" stroke-width="0.8"/>
<line x1="42.0" y1="569.28" x2="43.6" y2="569.28" stroke="#a2a2a2" stroke-width="0.8"/>
<line x1="42.0" y1="565.23" x2="43.6" y2="565.23" stroke="#a2a2a2" stroke-width="0.8"/>
<line x1="42.0" y1="562.35" x2="43.6" y2="562.35" stroke="#a2a2a2" stroke-width="0.8"/>
<line x1="42.0" y1="560.12" x2="43.6" y2="560.12" stroke="#a2a2a2" stroke-width="0.8"/>
<line x1="42.0" y1="558.30" x2="43.6" y2="558.30" stroke="#a2a2a2" stroke-width="0.8"/>
<line x1="42.0" y1="556.76" x2="43.6" y2="556.76" stroke="#a2a2a2" stroke-width="0.8"/>
<line x1="42.0" y1="555.43" x2="43.6" y2="555.43" stroke="#a2a2a2" stroke-width="0.8"/>
<line x1="42.0" y1="554.25" x2="43.6" y2="554.25" stroke="#a2a2a2" stroke-width="0.8"/>
<line x1="42.0" y1="553.20" x2="44.6" y2="553.20" stroke="#a2a2a2" stroke-width="0.8"/>
<line x1="42.0" y1="546.28" x2="43.6" y2="546.28" stroke="#a2a2a2" stroke-width="0.8"/>
<line x1="42.0" y1="542.23" x2="43.6" y2="542.23" stroke="#a2a2a2" stroke-width="0.8"/>
<line x1="42.0" y1="539.35" x2="43.6" y2="539.35" stroke="#a2a2a2" stroke-width="0.8"/>
<line x1="42.0" y1="537.12" x2="43.6" y2="537.12" stroke="#a2a2a2" stroke-width="0.8"/>
<line x1="42.0" y1="535.30" x2="43.6" y2="535.30" stroke="#a2a2a2" stroke-width="0.8"/>
<line x1="42.0" y1="533.76" x2="43.6" y2="533.76" stroke="#a2a2a2" stroke-width="0.8"/>
<line x1="42.0" y1="532.43" x2="43.6" y2="532.43" stroke="#a2a2a2" stroke-width="0.8"/>
<line x1="42.0" y1="531.25" x2="43.6" y2="531.25" stroke="#a2a2a2" stroke-width="0.8"/>
<line x1="42.0" y1="530.20" x2="44.6" y2="530.20" stroke="#a2a2a2" stroke-width="0.8"/>
<line x1="42.0" y1="523.28" x2="43.6" y2="523.28" stroke="#a2a2a2" stroke-width="0.8"/>
<line x1="42.0" y1="519.23" x2="43.6" y2="519.23" stroke="#a2a2a2" stroke-width="0.8"/>
<line x1="42.0" y1="516.35" x2="43.6" y2="516.35" stroke="#a2a2a2" stroke-width="0.8"/>
<line x1="42.0" y1="514.12" x2="43.6" y2="514.12" stroke="#a2a2a2" stroke-width="0.8"/>
<line x1="42.0" y1="512.30" x2="43.6" y2="512.30" stroke="#a2a2a2" stroke-width="0.8"/>
<line x1="42.0" y1="510.76" x2="43.6" y2="510.76" stroke="#a2a2a2" stroke-width="0.8"/>
<line x1="42.0" y1="509.43" x2="43.6" y2="509.43" stroke="#a2a2a2" stroke-width="0.8"/>
<line x1="42.0" y1="508.25" x2="43.6" y2="508.25" stroke="#a2a2a2" stroke-width="0.8"/>
<line x1="42.0" y1="507.20" x2="44.6" y2="507.20" stroke="#a2a2a2" stroke-width="0.8"/>
<line x1="42.0" y1="500.28" x2="43.6" y2="500.28" stroke="#a2a2a2" stroke-width="0.8"/>
<line x1="42.0" y1="496.23" x2="43.6" y2="496.23" stroke="#a2a2a2" stroke-width="0.8"/>
<line x1="42.0" y1="493.35" x2="43.6" y2="493.35" stroke="#a2a2a2" stroke-width="0.8"/>
<line x1="42.0" y1="491.12" x2="43.6" y2="491.12" stroke="#a2a2a2" stroke-width="0.8"/>
<line x1="42.0" y1="489.30" x2="43.6" y2="489.30" stroke="#a2a2a2" stroke-width="0.8"/>
<line x1="42.0" y1="487.76" x2="43.6" y2="487.76" stroke="#a2a2a2" stroke-width="0.8"/>
<line x1="42.0" y1="486.43" x2="43.6" y2="486.43" stroke="#a2a2a2" stroke-width="0.8"/>
<line x1="42.0" y1="485.25" x2="43.6" y2="485.25" stroke="#a2a2a2" stroke-width="0.8"/>
<text x="36.50" y="486.40" font-size="7.7" text-anchor="end" font-weight="normal" fill="#262626">10<tspan font-size="4.8" dy="-3.4">4</tspan></text>
<text x="36.50" y="532.40" font-size="7.7" text-anchor="end" font-weight="normal" fill="#262626">10<tspan font-size="4.8" dy="-3.4">2</tspan></text>
<text x="36.50" y="578.40" font-size="7.7" text-anchor="end" font-weight="normal" fill="#262626">10<tspan font-size="4.8" dy="-3.4">0</tspan></text>
<text x="36.50" y="624.40" font-size="7.7" text-anchor="end" font-weight="normal" fill="#262626">10<tspan font-size="4.8" dy="-3.4">&#8722;2</tspan></text>
<text x="14.90" y="564.60" font-size="8.9" text-anchor="middle" font-weight="normal" fill="#262626" transform="rotate(-90 14.9 564.6)" letter-spacing="0.1">Total run time (s)</text>
<text x="52.74" y="662.60" font-size="6.2" text-anchor="middle" font-weight="normal" fill="#262626" transform="rotate(-90 52.74 662.6)" stroke="#262626" stroke-width="0.12">Zero</text>
<text x="68.88" y="662.60" font-size="6.2" text-anchor="middle" font-weight="normal" fill="#262626" transform="rotate(-90 68.87999999999998 662.6)" stroke="#262626" stroke-width="0.12">Linear</text>
<text x="74.68" y="662.60" font-size="6.2" text-anchor="middle" font-weight="normal" fill="#262626" transform="rotate(-90 74.67999999999999 662.6)" stroke="#262626" stroke-width="0.12">(dense)</text>
<text x="87.92" y="662.60" font-size="6.2" text-anchor="middle" font-weight="normal" fill="#262626" transform="rotate(-90 87.91999999999999 662.6)" stroke="#262626" stroke-width="0.12">Linear</text>
<text x="93.72" y="662.60" font-size="6.2" text-anchor="middle" font-weight="normal" fill="#262626" transform="rotate(-90 93.72 662.6)" stroke="#262626" stroke-width="0.12">(sparse)</text>
<text x="106.96" y="662.60" font-size="6.2" text-anchor="middle" font-weight="normal" fill="#262626" transform="rotate(-90 106.96 662.6)" stroke="#262626" stroke-width="0.12">AR-100</text>
<text x="112.76" y="662.60" font-size="6.2" text-anchor="middle" font-weight="normal" fill="#262626" transform="rotate(-90 112.76 662.6)" stroke="#262626" stroke-width="0.12">(sparse)</text>
<text x="126.00" y="662.60" font-size="6.2" text-anchor="middle" font-weight="normal" fill="#262626" transform="rotate(-90 125.99999999999999 662.6)" stroke="#262626" stroke-width="0.12">AR-100</text>
<text x="131.80" y="662.60" font-size="6.2" text-anchor="middle" font-weight="normal" fill="#262626" transform="rotate(-90 131.8 662.6)" stroke="#262626" stroke-width="0.12">(scalar)</text>
<text x="147.94" y="662.60" font-size="6.2" text-anchor="middle" font-weight="normal" fill="#262626" transform="rotate(-90 147.94 662.6)" stroke="#262626" stroke-width="0.12">Subspace</text>
<text x="166.98" y="662.60" font-size="6.2" text-anchor="middle" font-weight="normal" fill="#262626" transform="rotate(-90 166.98000000000002 662.6)" stroke="#262626" stroke-width="0.12">NMM</text>
<text x="186.02" y="662.60" font-size="6.2" text-anchor="middle" font-weight="normal" fill="#262626" transform="rotate(-90 186.02 662.6)" stroke="#262626" stroke-width="0.12">Manifold</text>
<text x="202.16" y="662.60" font-size="6.2" text-anchor="middle" font-weight="normal" fill="#262626" transform="rotate(-90 202.16 662.6)" stroke="#262626" stroke-width="0.12">DNN</text>
<text x="207.96" y="662.60" font-size="6.2" text-anchor="middle" font-weight="normal" fill="#262626" transform="rotate(-90 207.96 662.6)" stroke="#262626" stroke-width="0.12">(MLP)</text>
<text x="221.20" y="662.60" font-size="6.2" text-anchor="middle" font-weight="normal" fill="#262626" transform="rotate(-90 221.2 662.6)" stroke="#262626" stroke-width="0.12">DNN</text>
<text x="227.00" y="662.60" font-size="6.2" text-anchor="middle" font-weight="normal" fill="#262626" transform="rotate(-90 227.0 662.6)" stroke="#262626" stroke-width="0.12">(CNN)</text>
<text x="240.24" y="662.60" font-size="6.2" text-anchor="middle" font-weight="normal" fill="#262626" transform="rotate(-90 240.23999999999998 662.6)" stroke="#262626" stroke-width="0.12">LSTM</text>
<text x="246.04" y="662.60" font-size="6.2" text-anchor="middle" font-weight="normal" fill="#262626" transform="rotate(-90 246.04 662.6)" stroke="#262626" stroke-width="0.12">(IIR)</text>
<text x="259.28" y="662.60" font-size="6.2" text-anchor="middle" font-weight="normal" fill="#262626" transform="rotate(-90 259.28000000000003 662.6)" stroke="#262626" stroke-width="0.12">LSTM</text>
<text x="265.08" y="662.60" font-size="6.2" text-anchor="middle" font-weight="normal" fill="#262626" transform="rotate(-90 265.08 662.6)" stroke="#262626" stroke-width="0.12">(FIR)</text>
<text x="278.32" y="662.60" font-size="6.2" text-anchor="middle" font-weight="normal" fill="#262626" transform="rotate(-90 278.32000000000005 662.6)" stroke="#262626" stroke-width="0.12">MMSE</text>
<text x="284.12" y="662.60" font-size="6.2" text-anchor="middle" font-weight="normal" fill="#262626" transform="rotate(-90 284.12 662.6)" stroke="#262626" stroke-width="0.12">(scalar)</text>
<defs><pattern id="hatch" patternUnits="userSpaceOnUse" width="3.3" height="3.3" patternTransform="rotate(42)"><rect width="3.3" height="3.3" fill="#f1f1f1"/><line x1="0.8" y1="0" x2="0.8" y2="3.3" stroke="#c6c6c6" stroke-width="1.4"/></pattern><linearGradient id="go" x1="0" y1="0" x2="0" y2="1"><stop offset="0.06" stop-color="#fdf2ed"/><stop offset="0.5" stop-color="#efb093"/><stop offset="1" stop-color="#d95319"/></linearGradient><linearGradient id="gb" x1="0" y1="0" x2="0" y2="1"><stop offset="0.06" stop-color="#ecf5fc"/><stop offset="0.5" stop-color="#8fc0e4"/><stop offset="1" stop-color="#0072bd"/></linearGradient><linearGradient id="lo" x1="0" y1="0" x2="1" y2="0"><stop offset="0" stop-color="#d95319"/><stop offset="1" stop-color="#fdf0ea"/></linearGradient><linearGradient id="lb" x1="0" y1="0" x2="1" y2="0"><stop offset="0" stop-color="#0072bd"/><stop offset="1" stop-color="#ebf4fb"/></linearGradient></defs>
<path fill="#d95319" d="M349.00 28.20h12.67v12.67h-12.67zM349.00 78.88h12.67v12.67h-12.67zM361.67 78.88h12.67v12.67h-12.67zM374.34 78.88h12.67v12.67h-12.67zM387.01 78.88h12.67v12.67h-12.67zM399.68 78.88h12.67v12.67h-12.67zM349.00 91.55h12.67v12.67h-12.67zM374.34 91.55h12.67v12.67h-12.67zM387.01 91.55h12.67v12.67h-12.67zM399.68 91.55h12.67v12.67h-12.67zM399.68 104.22h12.67v12.67h-12.67zM387.01 116.89h12.67v12.67h-12.67zM399.68 116.89h12.67v12.67h-12.67zM437.69 116.89h12.67v12.67h-12.67zM349.00 129.56h12.67v12.67h-12.67zM374.34 129.56h12.67v12.67h-12.67zM387.01 129.56h12.67v12.67h-12.67zM399.68 129.56h12.67v12.67h-12.67zM437.69 129.56h12.67v12.67h-12.67zM450.36 129.56h12.67v12.67h-12.67zM349.00 142.23h12.67v12.67h-12.67zM374.34 142.23h12.67v12.67h-12.67zM387.01 142.23h12.67v12.67h-12.67zM399.68 142.23h12.67v12.67h-12.67zM425.02 142.23h12.67v12.67h-12.67zM437.69 142.23h12.67v12.67h-12.67zM450.36 142.23h12.67v12.67h-12.67zM463.03 142.23h12.67v12.67h-12.67zM349.00 154.90h12.67v12.67h-12.67zM374.34 154.90h12.67v12.67h-12.67zM387.01 154.90h12.67v12.67h-12.67zM399.68 154.90h12.67v12.67h-12.67zM425.02 154.90h12.67v12.67h-12.67zM437.69 154.90h12.67v12.67h-12.67zM450.36 154.90h12.67v12.67h-12.67zM463.03 154.90h12.67v12.67h-12.67zM399.68 167.57h12.67v12.67h-12.67zM437.69 167.57h12.67v12.67h-12.67zM349.00 40.87h12.67v12.67h-12.67zM361.67 40.87h12.67v12.67h-12.67zM349.00 53.54h12.67v12.67h-12.67zM361.67 53.54h12.67v12.67h-12.67zM374.34 53.54h12.67v12.67h-12.67zM349.00 66.21h12.67v12.67h-12.67zM361.67 66.21h12.67v12.67h-12.67zM374.34 66.21h12.67v12.67h-12.67zM387.01 66.21h12.67v12.67h-12.67zM361.67 91.55h12.67v12.67h-12.67zM412.35 91.55h12.67v12.67h-12.67zM349.00 104.22h12.67v12.67h-12.67zM361.67 104.22h12.67v12.67h-12.67zM374.34 104.22h12.67v12.67h-12.67zM387.01 104.22h12.67v12.67h-12.67zM412.35 104.22h12.67v12.67h-12.67zM425.02 104.22h12.67v12.67h-12.67zM349.00 116.89h12.67v12.67h-12.67zM361.67 116.89h12.67v12.67h-12.67zM374.34 116.89h12.67v12.67h-12.67zM412.35 116.89h12.67v12.67h-12.67zM425.02 116.89h12.67v12.67h-12.67zM361.67 129.56h12.67v12.67h-12.67zM412.35 129.56h12.67v12.67h-12.67zM425.02 129.56h12.67v12.67h-12.67zM412.35 142.23h12.67v12.67h-12.67zM361.67 154.90h12.67v12.67h-12.67zM412.35 154.90h12.67v12.67h-12.67zM475.70 154.90h12.67v12.67h-12.67zM349.00 167.57h12.67v12.67h-12.67zM361.67 167.57h12.67v12.67h-12.67zM374.34 167.57h12.67v12.67h-12.67zM387.01 167.57h12.67v12.67h-12.67zM412.35 167.57h12.67v12.67h-12.67zM425.02 167.57h12.67v12.67h-12.67zM450.36 167.57h12.67v12.67h-12.67zM463.03 167.57h12.67v12.67h-12.67zM475.70 167.57h12.67v12.67h-12.67zM488.37 167.57h12.67v12.67h-12.67zM361.67 142.23h12.67v12.67h-12.67z"/>
<path fill="#0072bd" d="M349.00 28.20h12.67v12.67h-12.67zM349.00 78.88h12.67v12.67h-12.67zM361.67 78.88h12.67v12.67h-12.67zM374.34 78.88h12.67v12.67h-12.67zM387.01 78.88h12.67v12.67h-12.67zM399.68 78.88h12.67v12.67h-12.67zM349.00 91.55h12.67v12.67h-12.67zM374.34 91.55h12.67v12.67h-12.67zM387.01 91.55h12.67v12.67h-12.67zM399.68 91.55h12.67v12.67h-12.67zM399.68 104.22h12.67v12.67h-12.67zM387.01 116.89h12.67v12.67h-12.67zM399.68 116.89h12.67v12.67h-12.67zM437.69 116.89h12.67v12.67h-12.67zM349.00 129.56h12.67v12.67h-12.67zM374.34 129.56h12.67v12.67h-12.67zM387.01 129.56h12.67v12.67h-12.67zM399.68 129.56h12.67v12.67h-12.67zM437.69 129.56h12.67v12.67h-12.67zM450.36 129.56h12.67v12.67h-12.67zM349.00 142.23h12.67v12.67h-12.67zM374.34 142.23h12.67v12.67h-12.67zM387.01 142.23h12.67v12.67h-12.67zM399.68 142.23h12.67v12.67h-12.67zM425.02 142.23h12.67v12.67h-12.67zM437.69 142.23h12.67v12.67h-12.67zM450.36 142.23h12.67v12.67h-12.67zM463.03 142.23h12.67v12.67h-12.67zM349.00 154.90h12.67v12.67h-12.67zM374.34 154.90h12.67v12.67h-12.67zM387.01 154.90h12.67v12.67h-12.67zM399.68 154.90h12.67v12.67h-12.67zM425.02 154.90h12.67v12.67h-12.67zM437.69 154.90h12.67v12.67h-12.67zM450.36 154.90h12.67v12.67h-12.67zM463.03 154.90h12.67v12.67h-12.67zM399.68 167.57h12.67v12.67h-12.67zM437.69 167.57h12.67v12.67h-12.67z"/>
<rect x="361.67" y="142.23" width="12.67" height="12.67" fill="url(#hatch)"/>
<text x="330.50" y="33.60" font-size="6.2" text-anchor="middle" font-weight="normal" fill="#262626" stroke="#262626" stroke-width="0.12">Linear</text>
<text x="330.50" y="38.70" font-size="6.2" text-anchor="middle" font-weight="normal" fill="#262626" stroke="#262626" stroke-width="0.12">(dense)</text>
<text x="330.50" y="47.70" font-size="6.2" text-anchor="middle" font-weight="normal" fill="#262626" stroke="#262626" stroke-width="0.12">Linear</text>
<text x="330.50" y="52.80" font-size="6.2" text-anchor="middle" font-weight="normal" fill="#262626" stroke="#262626" stroke-width="0.12">(sparse)</text>
<text x="330.50" y="62.40" font-size="6.2" text-anchor="middle" font-weight="normal" fill="#262626" stroke="#262626" stroke-width="0.12">AR-100</text>
<text x="330.50" y="67.50" font-size="6.2" text-anchor="middle" font-weight="normal" fill="#262626" stroke="#262626" stroke-width="0.12">(sparse)</text>
<text x="330.50" y="76.10" font-size="6.2" text-anchor="middle" font-weight="normal" fill="#262626" stroke="#262626" stroke-width="0.12">AR-100</text>
<text x="330.50" y="81.20" font-size="6.2" text-anchor="middle" font-weight="normal" fill="#262626" stroke="#262626" stroke-width="0.12">(scalar)</text>
<text x="330.50" y="90.00" font-size="6.2" text-anchor="middle" font-weight="normal" fill="#262626" stroke="#262626" stroke-width="0.12">Subspace</text>
<text x="330.50" y="98.90" font-size="6.2" text-anchor="middle" font-weight="normal" fill="#262626" stroke="#262626" stroke-width="0.12">NMM</text>
<text x="330.50" y="107.70" font-size="6.2" text-anchor="middle" font-weight="normal" fill="#262626" stroke="#262626" stroke-width="0.12">Manifold</text>
<text x="330.50" y="116.50" font-size="6.2" text-anchor="middle" font-weight="normal" fill="#262626" stroke="#262626" stroke-width="0.12">DNN</text>
<text x="330.50" y="121.60" font-size="6.2" text-anchor="middle" font-weight="normal" fill="#262626" stroke="#262626" stroke-width="0.12">(MLP)</text>
<text x="330.50" y="130.70" font-size="6.2" text-anchor="middle" font-weight="normal" fill="#262626" stroke="#262626" stroke-width="0.12">DNN</text>
<text x="330.50" y="135.80" font-size="6.2" text-anchor="middle" font-weight="normal" fill="#262626" stroke="#262626" stroke-width="0.12">(CNN)</text>
<text x="330.50" y="144.90" font-size="6.2" text-anchor="middle" font-weight="normal" fill="#262626" stroke="#262626" stroke-width="0.12">LSTM</text>
<text x="330.50" y="150.00" font-size="6.2" text-anchor="middle" font-weight="normal" fill="#262626" stroke="#262626" stroke-width="0.12">(IIR)</text>
<text x="330.50" y="158.90" font-size="6.2" text-anchor="middle" font-weight="normal" fill="#262626" stroke="#262626" stroke-width="0.12">LSTM</text>
<text x="330.50" y="164.00" font-size="6.2" text-anchor="middle" font-weight="normal" fill="#262626" stroke="#262626" stroke-width="0.12">(FIR)</text>
<text x="330.50" y="173.10" font-size="6.2" text-anchor="middle" font-weight="normal" fill="#262626" stroke="#262626" stroke-width="0.12">MMSE</text>
<text x="330.50" y="178.20" font-size="6.2" text-anchor="middle" font-weight="normal" fill="#262626" stroke="#262626" stroke-width="0.12">(scalar)</text>
<text x="357.30" y="198.04" font-size="6.2" text-anchor="middle" font-weight="normal" fill="#262626" transform="rotate(-90 357.3 198.04)" stroke="#262626" stroke-width="0.12">Zero</text>
<text x="366.07" y="198.04" font-size="6.2" text-anchor="middle" font-weight="normal" fill="#262626" transform="rotate(-90 366.07 198.04)" stroke="#262626" stroke-width="0.12">Linear</text>
<text x="371.17" y="198.04" font-size="6.2" text-anchor="middle" font-weight="normal" fill="#262626" transform="rotate(-90 371.17 198.04)" stroke="#262626" stroke-width="0.12">(dense)</text>
<text x="380.17" y="198.04" font-size="6.2" text-anchor="middle" font-weight="normal" fill="#262626" transform="rotate(-90 380.17 198.04)" stroke="#262626" stroke-width="0.12">Linear</text>
<text x="385.27" y="198.04" font-size="6.2" text-anchor="middle" font-weight="normal" fill="#262626" transform="rotate(-90 385.27000000000004 198.04)" stroke="#262626" stroke-width="0.12">(sparse)</text>
<text x="394.87" y="198.04" font-size="6.2" text-anchor="middle" font-weight="normal" fill="#262626" transform="rotate(-90 394.87 198.04)" stroke="#262626" stroke-width="0.12">AR-100</text>
<text x="399.97" y="198.04" font-size="6.2" text-anchor="middle" font-weight="normal" fill="#262626" transform="rotate(-90 399.97 198.04)" stroke="#262626" stroke-width="0.12">(sparse)</text>
<text x="408.57" y="198.04" font-size="6.2" text-anchor="middle" font-weight="normal" fill="#262626" transform="rotate(-90 408.57 198.04)" stroke="#262626" stroke-width="0.12">AR-100</text>
<text x="413.67" y="198.04" font-size="6.2" text-anchor="middle" font-weight="normal" fill="#262626" transform="rotate(-90 413.67 198.04)" stroke="#262626" stroke-width="0.12">(scalar)</text>
<text x="422.47" y="198.04" font-size="6.2" text-anchor="middle" font-weight="normal" fill="#262626" transform="rotate(-90 422.47 198.04)" stroke="#262626" stroke-width="0.12">Subspace</text>
<text x="431.37" y="198.04" font-size="6.2" text-anchor="middle" font-weight="normal" fill="#262626" transform="rotate(-90 431.37 198.04)" stroke="#262626" stroke-width="0.12">NMM</text>
<text x="440.17" y="198.04" font-size="6.2" text-anchor="middle" font-weight="normal" fill="#262626" transform="rotate(-90 440.17 198.04)" stroke="#262626" stroke-width="0.12">Manifold</text>
<text x="448.97" y="198.04" font-size="6.2" text-anchor="middle" font-weight="normal" fill="#262626" transform="rotate(-90 448.97 198.04)" stroke="#262626" stroke-width="0.12">DNN</text>
<text x="454.07" y="198.04" font-size="6.2" text-anchor="middle" font-weight="normal" fill="#262626" transform="rotate(-90 454.07000000000005 198.04)" stroke="#262626" stroke-width="0.12">(MLP)</text>
<text x="463.17" y="198.04" font-size="6.2" text-anchor="middle" font-weight="normal" fill="#262626" transform="rotate(-90 463.17 198.04)" stroke="#262626" stroke-width="0.12">DNN</text>
<text x="468.27" y="198.04" font-size="6.2" text-anchor="middle" font-weight="normal" fill="#262626" transform="rotate(-90 468.27000000000004 198.04)" stroke="#262626" stroke-width="0.12">(CNN)</text>
<text x="477.37" y="198.04" font-size="6.2" text-anchor="middle" font-weight="normal" fill="#262626" transform="rotate(-90 477.37 198.04)" stroke="#262626" stroke-width="0.12">LSTM</text>
<text x="482.47" y="198.04" font-size="6.2" text-anchor="middle" font-weight="normal" fill="#262626" transform="rotate(-90 482.47 198.04)" stroke="#262626" stroke-width="0.12">(IIR)</text>
<text x="491.37" y="198.04" font-size="6.2" text-anchor="middle" font-weight="normal" fill="#262626" transform="rotate(-90 491.37 198.04)" stroke="#262626" stroke-width="0.12">LSTM</text>
<text x="496.47" y="198.04" font-size="6.2" text-anchor="middle" font-weight="normal" fill="#262626" transform="rotate(-90 496.47 198.04)" stroke="#262626" stroke-width="0.12">(FIR)</text>
<rect x="515.4" y="28.6" width="10.0" height="151.8" fill="url(#go)"/>
<rect x="525.4" y="28.6" width="10.0" height="151.8" fill="url(#gb)"/>
<rect x="515.4" y="28.6" width="20.0" height="9.2" fill="#c8c8c8"/>
<rect x="515.4" y="28.6" width="20.0" height="151.8" fill="none" stroke="#7a7a7a" stroke-width="0.9"/>
<line x1="525.4" y1="28.6" x2="525.4" y2="180.4" stroke="#7a7a7a" stroke-width="0.9"/>
<text x="539.30" y="29.90" font-size="7.3" text-anchor="start" font-weight="normal" fill="#262626">10<tspan font-size="4.5" dy="-3.1">0</tspan></text>
<line x1="533.8" y1="58.96" x2="535.4" y2="58.96" stroke="#555" stroke-width="0.9"/>
<text x="539.30" y="60.26" font-size="7.3" text-anchor="start" font-weight="normal" fill="#262626">10<tspan font-size="4.5" dy="-3.1">-4</tspan></text>
<line x1="533.8" y1="89.32" x2="535.4" y2="89.32" stroke="#555" stroke-width="0.9"/>
<text x="539.30" y="90.62" font-size="7.3" text-anchor="start" font-weight="normal" fill="#262626">10<tspan font-size="4.5" dy="-3.1">-8</tspan></text>
<line x1="533.8" y1="119.68" x2="535.4" y2="119.68" stroke="#555" stroke-width="0.9"/>
<text x="539.30" y="120.98" font-size="7.3" text-anchor="start" font-weight="normal" fill="#262626">10<tspan font-size="4.5" dy="-3.1">-12</tspan></text>
<line x1="533.8" y1="150.04" x2="535.4" y2="150.04" stroke="#555" stroke-width="0.9"/>
<text x="539.30" y="151.34" font-size="7.3" text-anchor="start" font-weight="normal" fill="#262626">10<tspan font-size="4.5" dy="-3.1">-16</tspan></text>
<text x="539.30" y="181.70" font-size="7.3" text-anchor="start" font-weight="normal" fill="#262626">&lt;10<tspan font-size="4.5" dy="-3.1">-20</tspan></text>
<text x="566.60" y="104.80" font-size="9" text-anchor="middle" font-weight="normal" fill="#262626" transform="rotate(90 566.6 104.8)" font-style="italic">p</text>
<path fill="#d95319" d="M349.20 262.50h12.65v12.65h-12.65zM349.20 275.15h12.65v12.65h-12.65zM349.20 287.80h12.65v12.65h-12.65zM374.50 287.80h12.65v12.65h-12.65zM399.80 313.10h12.65v12.65h-12.65zM349.20 325.75h12.65v12.65h-12.65zM361.85 325.75h12.65v12.65h-12.65zM374.50 325.75h12.65v12.65h-12.65zM387.15 325.75h12.65v12.65h-12.65zM399.80 325.75h12.65v12.65h-12.65zM412.45 325.75h12.65v12.65h-12.65zM399.80 338.40h12.65v12.65h-12.65zM349.20 351.05h12.65v12.65h-12.65zM399.80 351.05h12.65v12.65h-12.65zM437.75 351.05h12.65v12.65h-12.65zM349.20 363.70h12.65v12.65h-12.65zM399.80 363.70h12.65v12.65h-12.65zM412.45 363.70h12.65v12.65h-12.65zM437.75 363.70h12.65v12.65h-12.65zM450.40 363.70h12.65v12.65h-12.65zM349.20 376.35h12.65v12.65h-12.65zM374.50 376.35h12.65v12.65h-12.65zM387.15 376.35h12.65v12.65h-12.65zM399.80 376.35h12.65v12.65h-12.65zM412.45 376.35h12.65v12.65h-12.65zM437.75 376.35h12.65v12.65h-12.65zM450.40 376.35h12.65v12.65h-12.65zM463.05 376.35h12.65v12.65h-12.65zM349.20 389.00h12.65v12.65h-12.65zM399.80 389.00h12.65v12.65h-12.65zM437.75 389.00h12.65v12.65h-12.65zM349.20 401.65h12.65v12.65h-12.65zM361.85 401.65h12.65v12.65h-12.65zM374.50 401.65h12.65v12.65h-12.65zM387.15 401.65h12.65v12.65h-12.65zM399.80 401.65h12.65v12.65h-12.65zM412.45 401.65h12.65v12.65h-12.65zM437.75 401.65h12.65v12.65h-12.65zM450.40 401.65h12.65v12.65h-12.65zM463.05 401.65h12.65v12.65h-12.65zM475.70 401.65h12.65v12.65h-12.65zM488.35 401.65h12.65v12.65h-12.65zM361.85 275.15h12.65v12.65h-12.65zM361.85 287.80h12.65v12.65h-12.65zM349.20 300.45h12.65v12.65h-12.65zM361.85 300.45h12.65v12.65h-12.65zM374.50 300.45h12.65v12.65h-12.65zM387.15 300.45h12.65v12.65h-12.65zM361.85 313.10h12.65v12.65h-12.65zM374.50 313.10h12.65v12.65h-12.65zM387.15 313.10h12.65v12.65h-12.65zM349.20 338.40h12.65v12.65h-12.65zM361.85 338.40h12.65v12.65h-12.65zM374.50 338.40h12.65v12.65h-12.65zM387.15 338.40h12.65v12.65h-12.65zM412.45 338.40h12.65v12.65h-12.65zM425.10 338.40h12.65v12.65h-12.65zM361.85 351.05h12.65v12.65h-12.65zM374.50 351.05h12.65v12.65h-12.65zM387.15 351.05h12.65v12.65h-12.65zM425.10 351.05h12.65v12.65h-12.65zM361.85 363.70h12.65v12.65h-12.65zM387.15 363.70h12.65v12.65h-12.65zM425.10 363.70h12.65v12.65h-12.65zM425.10 376.35h12.65v12.65h-12.65zM361.85 389.00h12.65v12.65h-12.65zM374.50 389.00h12.65v12.65h-12.65zM387.15 389.00h12.65v12.65h-12.65zM425.10 389.00h12.65v12.65h-12.65zM463.05 389.00h12.65v12.65h-12.65zM475.70 389.00h12.65v12.65h-12.65zM425.10 401.65h12.65v12.65h-12.65zM349.20 313.10h12.65v12.65h-12.65zM374.50 363.70h12.65v12.65h-12.65zM412.45 351.05h12.65v12.65h-12.65zM361.85 376.35h12.65v12.65h-12.65zM450.40 389.00h12.65v12.65h-12.65zM412.45 389.00h12.65v12.65h-12.65z"/>
<path fill="#0072bd" d="M361.85 275.15h12.65v12.65h-12.65zM361.85 287.80h12.65v12.65h-12.65zM349.20 300.45h12.65v12.65h-12.65zM361.85 300.45h12.65v12.65h-12.65zM374.50 300.45h12.65v12.65h-12.65zM387.15 300.45h12.65v12.65h-12.65zM361.85 313.10h12.65v12.65h-12.65zM374.50 313.10h12.65v12.65h-12.65zM387.15 313.10h12.65v12.65h-12.65zM349.20 338.40h12.65v12.65h-12.65zM361.85 338.40h12.65v12.65h-12.65zM374.50 338.40h12.65v12.65h-12.65zM387.15 338.40h12.65v12.65h-12.65zM412.45 338.40h12.65v12.65h-12.65zM425.10 338.40h12.65v12.65h-12.65zM361.85 351.05h12.65v12.65h-12.65zM374.50 351.05h12.65v12.65h-12.65zM387.15 351.05h12.65v12.65h-12.65zM425.10 351.05h12.65v12.65h-12.65zM361.85 363.70h12.65v12.65h-12.65zM387.15 363.70h12.65v12.65h-12.65zM425.10 363.70h12.65v12.65h-12.65zM425.10 376.35h12.65v12.65h-12.65zM361.85 389.00h12.65v12.65h-12.65zM374.50 389.00h12.65v12.65h-12.65zM387.15 389.00h12.65v12.65h-12.65zM425.10 389.00h12.65v12.65h-12.65zM463.05 389.00h12.65v12.65h-12.65zM475.70 389.00h12.65v12.65h-12.65zM425.10 401.65h12.65v12.65h-12.65z"/>
<path fill="#9ec8e7" d="M349.20 313.10h12.65v12.65h-12.65zM374.50 363.70h12.65v12.65h-12.65z"/>
<path fill="#e8896a" d="M412.45 351.05h12.65v12.65h-12.65z"/>
<path fill="#d6e7f5" d="M361.85 376.35h12.65v12.65h-12.65zM450.40 389.00h12.65v12.65h-12.65z"/>
<path fill="#edf4fb" d="M412.45 389.00h12.65v12.65h-12.65z"/>
<text x="330.50" y="267.89" font-size="6.2" text-anchor="middle" font-weight="normal" fill="#262626" stroke="#262626" stroke-width="0.12">Linear</text>
<text x="330.50" y="272.98" font-size="6.2" text-anchor="middle" font-weight="normal" fill="#262626" stroke="#262626" stroke-width="0.12">(dense)</text>
<text x="330.50" y="281.97" font-size="6.2" text-anchor="middle" font-weight="normal" fill="#262626" stroke="#262626" stroke-width="0.12">Linear</text>
<text x="330.50" y="287.06" font-size="6.2" text-anchor="middle" font-weight="normal" fill="#262626" stroke="#262626" stroke-width="0.12">(sparse)</text>
<text x="330.50" y="296.65" font-size="6.2" text-anchor="middle" font-weight="normal" fill="#262626" stroke="#262626" stroke-width="0.12">AR-100</text>
<text x="330.50" y="301.74" font-size="6.2" text-anchor="middle" font-weight="normal" fill="#262626" stroke="#262626" stroke-width="0.12">(sparse)</text>
<text x="330.50" y="310.32" font-size="6.2" text-anchor="middle" font-weight="normal" fill="#262626" stroke="#262626" stroke-width="0.12">AR-100</text>
<text x="330.50" y="315.42" font-size="6.2" text-anchor="middle" font-weight="normal" fill="#262626" stroke="#262626" stroke-width="0.12">(scalar)</text>
<text x="330.50" y="324.20" font-size="6.2" text-anchor="middle" font-weight="normal" fill="#262626" stroke="#262626" stroke-width="0.12">Subspace</text>
<text x="330.50" y="333.09" font-size="6.2" text-anchor="middle" font-weight="normal" fill="#262626" stroke="#262626" stroke-width="0.12">NMM</text>
<text x="330.50" y="341.87" font-size="6.2" text-anchor="middle" font-weight="normal" fill="#262626" stroke="#262626" stroke-width="0.12">Manifold</text>
<text x="330.50" y="350.66" font-size="6.2" text-anchor="middle" font-weight="normal" fill="#262626" stroke="#262626" stroke-width="0.12">DNN</text>
<text x="330.50" y="355.75" font-size="6.2" text-anchor="middle" font-weight="normal" fill="#262626" stroke="#262626" stroke-width="0.12">(MLP)</text>
<text x="330.50" y="364.84" font-size="6.2" text-anchor="middle" font-weight="normal" fill="#262626" stroke="#262626" stroke-width="0.12">DNN</text>
<text x="330.50" y="369.93" font-size="6.2" text-anchor="middle" font-weight="normal" fill="#262626" stroke="#262626" stroke-width="0.12">(CNN)</text>
<text x="330.50" y="379.02" font-size="6.2" text-anchor="middle" font-weight="normal" fill="#262626" stroke="#262626" stroke-width="0.12">LSTM</text>
<text x="330.50" y="384.11" font-size="6.2" text-anchor="middle" font-weight="normal" fill="#262626" stroke="#262626" stroke-width="0.12">(IIR)</text>
<text x="330.50" y="392.99" font-size="6.2" text-anchor="middle" font-weight="normal" fill="#262626" stroke="#262626" stroke-width="0.12">LSTM</text>
<text x="330.50" y="398.09" font-size="6.2" text-anchor="middle" font-weight="normal" fill="#262626" stroke="#262626" stroke-width="0.12">(FIR)</text>
<text x="330.50" y="407.17" font-size="6.2" text-anchor="middle" font-weight="normal" fill="#262626" stroke="#262626" stroke-width="0.12">MMSE</text>
<text x="330.50" y="412.26" font-size="6.2" text-anchor="middle" font-weight="normal" fill="#262626" stroke="#262626" stroke-width="0.12">(scalar)</text>
<text x="357.49" y="432.07" font-size="6.2" text-anchor="middle" font-weight="normal" fill="#262626" transform="rotate(-90 357.48689818468824 432.0719021310182)" stroke="#262626" stroke-width="0.12">Zero</text>
<text x="366.24" y="432.07" font-size="6.2" text-anchor="middle" font-weight="normal" fill="#262626" transform="rotate(-90 366.2430544593528 432.0719021310182)" stroke="#262626" stroke-width="0.12">Linear</text>
<text x="371.34" y="432.07" font-size="6.2" text-anchor="middle" font-weight="normal" fill="#262626" transform="rotate(-90 371.3350039463299 432.0719021310182)" stroke="#262626" stroke-width="0.12">(dense)</text>
<text x="380.32" y="432.07" font-size="6.2" text-anchor="middle" font-weight="normal" fill="#262626" transform="rotate(-90 380.32079715864245 432.0719021310182)" stroke="#262626" stroke-width="0.12">Linear</text>
<text x="385.41" y="432.07" font-size="6.2" text-anchor="middle" font-weight="normal" fill="#262626" transform="rotate(-90 385.41274664561956 432.0719021310182)" stroke="#262626" stroke-width="0.12">(sparse)</text>
<text x="395.00" y="432.07" font-size="6.2" text-anchor="middle" font-weight="normal" fill="#262626" transform="rotate(-90 394.9975927387529 432.0719021310182)" stroke="#262626" stroke-width="0.12">AR-100</text>
<text x="400.09" y="432.07" font-size="6.2" text-anchor="middle" font-weight="normal" fill="#262626" transform="rotate(-90 400.08954222573004 432.0719021310182)" stroke="#262626" stroke-width="0.12">(sparse)</text>
<text x="408.68" y="432.07" font-size="6.2" text-anchor="middle" font-weight="normal" fill="#262626" transform="rotate(-90 408.67596685082873 432.0719021310182)" stroke="#262626" stroke-width="0.12">AR-100</text>
<text x="413.77" y="432.07" font-size="6.2" text-anchor="middle" font-weight="normal" fill="#262626" transform="rotate(-90 413.76791633780584 432.0719021310182)" stroke="#262626" stroke-width="0.12">(scalar)</text>
<text x="422.55" y="432.07" font-size="6.2" text-anchor="middle" font-weight="normal" fill="#262626" transform="rotate(-90 422.5540252565114 432.0719021310182)" stroke="#262626" stroke-width="0.12">Subspace</text>
<text x="431.44" y="432.07" font-size="6.2" text-anchor="middle" font-weight="normal" fill="#262626" transform="rotate(-90 431.4399763220205 432.0719021310182)" stroke="#262626" stroke-width="0.12">NMM</text>
<text x="440.23" y="432.07" font-size="6.2" text-anchor="middle" font-weight="normal" fill="#262626" transform="rotate(-90 440.2260852407261 432.0719021310182)" stroke="#262626" stroke-width="0.12">Manifold</text>
<text x="449.01" y="432.07" font-size="6.2" text-anchor="middle" font-weight="normal" fill="#262626" transform="rotate(-90 449.0121941594317 432.0719021310182)" stroke="#262626" stroke-width="0.12">DNN</text>
<text x="454.10" y="432.07" font-size="6.2" text-anchor="middle" font-weight="normal" fill="#262626" transform="rotate(-90 454.10414364640883 432.0719021310182)" stroke="#262626" stroke-width="0.12">(MLP)</text>
<text x="463.19" y="432.07" font-size="6.2" text-anchor="middle" font-weight="normal" fill="#262626" transform="rotate(-90 463.1897790055249 432.0719021310182)" stroke="#262626" stroke-width="0.12">DNN</text>
<text x="468.28" y="432.07" font-size="6.2" text-anchor="middle" font-weight="normal" fill="#262626" transform="rotate(-90 468.281728492502 432.0719021310182)" stroke="#262626" stroke-width="0.12">(CNN)</text>
<text x="477.37" y="432.07" font-size="6.2" text-anchor="middle" font-weight="normal" fill="#262626" transform="rotate(-90 477.367363851618 432.0719021310182)" stroke="#262626" stroke-width="0.12">LSTM</text>
<text x="482.46" y="432.07" font-size="6.2" text-anchor="middle" font-weight="normal" fill="#262626" transform="rotate(-90 482.4593133385951 432.0719021310182)" stroke="#262626" stroke-width="0.12">(IIR)</text>
<text x="491.35" y="432.07" font-size="6.2" text-anchor="middle" font-weight="normal" fill="#262626" transform="rotate(-90 491.3452644041041 432.0719021310182)" stroke="#262626" stroke-width="0.12">LSTM</text>
<text x="496.44" y="432.07" font-size="6.2" text-anchor="middle" font-weight="normal" fill="#262626" transform="rotate(-90 496.4372138910812 432.0719021310182)" stroke="#262626" stroke-width="0.12">(FIR)</text>
<rect x="515.4" y="262.4" width="10.0" height="151.8" fill="url(#go)"/>
<rect x="525.4" y="262.4" width="10.0" height="151.8" fill="url(#gb)"/>
<rect x="515.4" y="262.4" width="20.0" height="9.7" fill="#c8c8c8"/>
<rect x="515.4" y="262.4" width="20.0" height="151.8" fill="none" stroke="#7a7a7a" stroke-width="0.9"/>
<line x1="525.4" y1="262.4" x2="525.4" y2="414.2" stroke="#7a7a7a" stroke-width="0.9"/>
<text x="539.30" y="263.70" font-size="7.3" text-anchor="start" font-weight="normal" fill="#262626">10<tspan font-size="4.5" dy="-3.1">0</tspan></text>
<line x1="533.8" y1="292.76" x2="535.4" y2="292.76" stroke="#555" stroke-width="0.9"/>
<text x="539.30" y="294.06" font-size="7.3" text-anchor="start" font-weight="normal" fill="#262626">10<tspan font-size="4.5" dy="-3.1">-4</tspan></text>
<line x1="533.8" y1="323.12" x2="535.4" y2="323.12" stroke="#555" stroke-width="0.9"/>
<text x="539.30" y="324.42" font-size="7.3" text-anchor="start" font-weight="normal" fill="#262626">10<tspan font-size="4.5" dy="-3.1">-8</tspan></text>
<line x1="533.8" y1="353.48" x2="535.4" y2="353.48" stroke="#555" stroke-width="0.9"/>
<text x="539.30" y="354.78" font-size="7.3" text-anchor="start" font-weight="normal" fill="#262626">10<tspan font-size="4.5" dy="-3.1">-12</tspan></text>
<line x1="533.8" y1="383.84" x2="535.4" y2="383.84" stroke="#555" stroke-width="0.9"/>
<text x="539.30" y="385.14" font-size="7.3" text-anchor="start" font-weight="normal" fill="#262626">10<tspan font-size="4.5" dy="-3.1">-16</tspan></text>
<text x="539.30" y="415.50" font-size="7.3" text-anchor="start" font-weight="normal" fill="#262626">&lt;10<tspan font-size="4.5" dy="-3.1">-20</tspan></text>
<text x="566.60" y="338.60" font-size="9" text-anchor="middle" font-weight="normal" fill="#262626" transform="rotate(90 566.6 338.59999999999997)" font-style="italic">p</text>
<path fill="#d95319" d="M349.00 489.90h12.93v12.93h-12.93zM349.00 502.83h12.93v12.93h-12.93zM349.00 515.76h12.93v12.93h-12.93zM361.93 515.76h12.93v12.93h-12.93zM374.86 515.76h12.93v12.93h-12.93zM349.00 528.69h12.93v12.93h-12.93zM361.93 528.69h12.93v12.93h-12.93zM374.86 528.69h12.93v12.93h-12.93zM349.00 541.62h12.93v12.93h-12.93zM361.93 541.62h12.93v12.93h-12.93zM374.86 541.62h12.93v12.93h-12.93zM387.79 541.62h12.93v12.93h-12.93zM400.72 541.62h12.93v12.93h-12.93zM349.00 554.55h12.93v12.93h-12.93zM361.93 554.55h12.93v12.93h-12.93zM374.86 554.55h12.93v12.93h-12.93zM387.79 554.55h12.93v12.93h-12.93zM400.72 554.55h12.93v12.93h-12.93zM349.00 567.48h12.93v12.93h-12.93zM361.93 567.48h12.93v12.93h-12.93zM374.86 567.48h12.93v12.93h-12.93zM387.79 567.48h12.93v12.93h-12.93zM400.72 567.48h12.93v12.93h-12.93zM413.65 567.48h12.93v12.93h-12.93zM426.58 567.48h12.93v12.93h-12.93zM349.00 580.41h12.93v12.93h-12.93zM361.93 580.41h12.93v12.93h-12.93zM374.86 580.41h12.93v12.93h-12.93zM387.79 580.41h12.93v12.93h-12.93zM400.72 580.41h12.93v12.93h-12.93zM426.58 580.41h12.93v12.93h-12.93zM349.00 593.34h12.93v12.93h-12.93zM361.93 593.34h12.93v12.93h-12.93zM374.86 593.34h12.93v12.93h-12.93zM387.79 593.34h12.93v12.93h-12.93zM400.72 593.34h12.93v12.93h-12.93zM426.58 593.34h12.93v12.93h-12.93zM452.44 593.34h12.93v12.93h-12.93zM349.00 606.27h12.93v12.93h-12.93zM361.93 606.27h12.93v12.93h-12.93zM374.86 606.27h12.93v12.93h-12.93zM387.79 606.27h12.93v12.93h-12.93zM400.72 606.27h12.93v12.93h-12.93zM413.65 606.27h12.93v12.93h-12.93zM426.58 606.27h12.93v12.93h-12.93zM439.51 606.27h12.93v12.93h-12.93zM452.44 606.27h12.93v12.93h-12.93zM465.37 606.27h12.93v12.93h-12.93zM349.00 619.20h12.93v12.93h-12.93zM361.93 619.20h12.93v12.93h-12.93zM374.86 619.20h12.93v12.93h-12.93zM387.79 619.20h12.93v12.93h-12.93zM400.72 619.20h12.93v12.93h-12.93zM426.58 619.20h12.93v12.93h-12.93zM452.44 619.20h12.93v12.93h-12.93zM349.00 632.13h12.93v12.93h-12.93zM361.93 632.13h12.93v12.93h-12.93zM374.86 632.13h12.93v12.93h-12.93zM387.79 632.13h12.93v12.93h-12.93zM400.72 632.13h12.93v12.93h-12.93zM413.65 632.13h12.93v12.93h-12.93zM426.58 632.13h12.93v12.93h-12.93zM452.44 632.13h12.93v12.93h-12.93zM465.37 632.13h12.93v12.93h-12.93zM491.23 632.13h12.93v12.93h-12.93zM361.93 502.83h12.93v12.93h-12.93zM387.79 528.69h12.93v12.93h-12.93zM413.65 554.55h12.93v12.93h-12.93zM413.65 580.41h12.93v12.93h-12.93zM439.51 580.41h12.93v12.93h-12.93zM413.65 593.34h12.93v12.93h-12.93zM439.51 593.34h12.93v12.93h-12.93zM413.65 619.20h12.93v12.93h-12.93zM439.51 619.20h12.93v12.93h-12.93zM465.37 619.20h12.93v12.93h-12.93zM478.30 619.20h12.93v12.93h-12.93zM439.51 632.13h12.93v12.93h-12.93zM478.30 632.13h12.93v12.93h-12.93z"/>
<path fill="#0072bd" d="M361.93 502.83h12.93v12.93h-12.93zM387.79 528.69h12.93v12.93h-12.93zM413.65 554.55h12.93v12.93h-12.93zM413.65 580.41h12.93v12.93h-12.93zM439.51 580.41h12.93v12.93h-12.93zM413.65 593.34h12.93v12.93h-12.93zM439.51 593.34h12.93v12.93h-12.93zM413.65 619.20h12.93v12.93h-12.93zM439.51 619.20h12.93v12.93h-12.93zM465.37 619.20h12.93v12.93h-12.93zM478.30 619.20h12.93v12.93h-12.93zM439.51 632.13h12.93v12.93h-12.93zM478.30 632.13h12.93v12.93h-12.93z"/>
<text x="330.50" y="495.41" font-size="6.2" text-anchor="middle" font-weight="normal" fill="#262626" stroke="#262626" stroke-width="0.12">Linear</text>
<text x="330.50" y="500.62" font-size="6.2" text-anchor="middle" font-weight="normal" fill="#262626" stroke="#262626" stroke-width="0.12">(dense)</text>
<text x="330.50" y="509.80" font-size="6.2" text-anchor="middle" font-weight="normal" fill="#262626" stroke="#262626" stroke-width="0.12">Linear</text>
<text x="330.50" y="515.00" font-size="6.2" text-anchor="middle" font-weight="normal" fill="#262626" stroke="#262626" stroke-width="0.12">(sparse)</text>
<text x="330.50" y="524.80" font-size="6.2" text-anchor="middle" font-weight="normal" fill="#262626" stroke="#262626" stroke-width="0.12">AR-100</text>
<text x="330.50" y="530.01" font-size="6.2" text-anchor="middle" font-weight="normal" fill="#262626" stroke="#262626" stroke-width="0.12">(sparse)</text>
<text x="330.50" y="538.78" font-size="6.2" text-anchor="middle" font-weight="normal" fill="#262626" stroke="#262626" stroke-width="0.12">AR-100</text>
<text x="330.50" y="543.99" font-size="6.2" text-anchor="middle" font-weight="normal" fill="#262626" stroke="#262626" stroke-width="0.12">(scalar)</text>
<text x="330.50" y="552.97" font-size="6.2" text-anchor="middle" font-weight="normal" fill="#262626" stroke="#262626" stroke-width="0.12">Subspace</text>
<text x="330.50" y="562.05" font-size="6.2" text-anchor="middle" font-weight="normal" fill="#262626" stroke="#262626" stroke-width="0.12">NMM</text>
<text x="330.50" y="571.03" font-size="6.2" text-anchor="middle" font-weight="normal" fill="#262626" stroke="#262626" stroke-width="0.12">Manifold</text>
<text x="330.50" y="580.01" font-size="6.2" text-anchor="middle" font-weight="normal" fill="#262626" stroke="#262626" stroke-width="0.12">DNN</text>
<text x="330.50" y="585.22" font-size="6.2" text-anchor="middle" font-weight="normal" fill="#262626" stroke="#262626" stroke-width="0.12">(MLP)</text>
<text x="330.50" y="594.50" font-size="6.2" text-anchor="middle" font-weight="normal" fill="#262626" stroke="#262626" stroke-width="0.12">DNN</text>
<text x="330.50" y="599.71" font-size="6.2" text-anchor="middle" font-weight="normal" fill="#262626" stroke="#262626" stroke-width="0.12">(CNN)</text>
<text x="330.50" y="608.99" font-size="6.2" text-anchor="middle" font-weight="normal" fill="#262626" stroke="#262626" stroke-width="0.12">LSTM</text>
<text x="330.50" y="614.20" font-size="6.2" text-anchor="middle" font-weight="normal" fill="#262626" stroke="#262626" stroke-width="0.12">(IIR)</text>
<text x="330.50" y="623.28" font-size="6.2" text-anchor="middle" font-weight="normal" fill="#262626" stroke="#262626" stroke-width="0.12">LSTM</text>
<text x="330.50" y="628.49" font-size="6.2" text-anchor="middle" font-weight="normal" fill="#262626" stroke="#262626" stroke-width="0.12">(FIR)</text>
<text x="330.50" y="637.77" font-size="6.2" text-anchor="middle" font-weight="normal" fill="#262626" stroke="#262626" stroke-width="0.12">MMSE</text>
<text x="330.50" y="642.98" font-size="6.2" text-anchor="middle" font-weight="normal" fill="#262626" stroke="#262626" stroke-width="0.12">(scalar)</text>
<text x="357.47" y="663.23" font-size="6.2" text-anchor="middle" font-weight="normal" fill="#262626" transform="rotate(-90 357.4703235990529 663.2252722967639)" stroke="#262626" stroke-width="0.12">Zero</text>
<text x="366.42" y="663.23" font-size="6.2" text-anchor="middle" font-weight="normal" fill="#262626" transform="rotate(-90 366.4202920284136 663.2252722967639)" stroke="#262626" stroke-width="0.12">Linear</text>
<text x="371.62" y="663.23" font-size="6.2" text-anchor="middle" font-weight="normal" fill="#262626" transform="rotate(-90 371.62494869771115 663.2252722967639)" stroke="#262626" stroke-width="0.12">(dense)</text>
<text x="380.81" y="663.23" font-size="6.2" text-anchor="middle" font-weight="normal" fill="#262626" transform="rotate(-90 380.809636937648 663.2252722967639)" stroke="#262626" stroke-width="0.12">Linear</text>
<text x="386.01" y="663.23" font-size="6.2" text-anchor="middle" font-weight="normal" fill="#262626" transform="rotate(-90 386.01429360694556 663.2252722967639)" stroke="#262626" stroke-width="0.12">(sparse)</text>
<text x="395.81" y="663.23" font-size="6.2" text-anchor="middle" font-weight="normal" fill="#262626" transform="rotate(-90 395.8112943962115 663.2252722967639)" stroke="#262626" stroke-width="0.12">AR-100</text>
<text x="401.02" y="663.23" font-size="6.2" text-anchor="middle" font-weight="normal" fill="#262626" transform="rotate(-90 401.01595106550906 663.2252722967639)" stroke="#262626" stroke-width="0.12">(sparse)</text>
<text x="409.79" y="663.23" font-size="6.2" text-anchor="middle" font-weight="normal" fill="#262626" transform="rotate(-90 409.7924309392265 663.2252722967639)" stroke="#262626" stroke-width="0.12">AR-100</text>
<text x="415.00" y="663.23" font-size="6.2" text-anchor="middle" font-weight="normal" fill="#262626" transform="rotate(-90 414.99708760852405 663.2252722967639)" stroke="#262626" stroke-width="0.12">(scalar)</text>
<text x="423.98" y="663.23" font-size="6.2" text-anchor="middle" font-weight="normal" fill="#262626" transform="rotate(-90 423.9776716653512 663.2252722967639)" stroke="#262626" stroke-width="0.12">Subspace</text>
<text x="433.06" y="663.23" font-size="6.2" text-anchor="middle" font-weight="normal" fill="#262626" transform="rotate(-90 433.06030781373323 663.2252722967639)" stroke="#262626" stroke-width="0.12">NMM</text>
<text x="442.04" y="663.23" font-size="6.2" text-anchor="middle" font-weight="normal" fill="#262626" transform="rotate(-90 442.04089187056036 663.2252722967639)" stroke="#262626" stroke-width="0.12">Manifold</text>
<text x="451.02" y="663.23" font-size="6.2" text-anchor="middle" font-weight="normal" fill="#262626" transform="rotate(-90 451.02147592738754 663.2252722967639)" stroke="#262626" stroke-width="0.12">DNN</text>
<text x="456.23" y="663.23" font-size="6.2" text-anchor="middle" font-weight="normal" fill="#262626" transform="rotate(-90 456.2261325966851 663.2252722967639)" stroke="#262626" stroke-width="0.12">(MLP)</text>
<text x="465.51" y="663.23" font-size="6.2" text-anchor="middle" font-weight="normal" fill="#262626" transform="rotate(-90 465.51287292817676 663.2252722967639)" stroke="#262626" stroke-width="0.12">DNN</text>
<text x="470.72" y="663.23" font-size="6.2" text-anchor="middle" font-weight="normal" fill="#262626" transform="rotate(-90 470.7175295974743 663.2252722967639)" stroke="#262626" stroke-width="0.12">(CNN)</text>
<text x="480.00" y="663.23" font-size="6.2" text-anchor="middle" font-weight="normal" fill="#262626" transform="rotate(-90 480.00426992896604 663.2252722967639)" stroke="#262626" stroke-width="0.12">LSTM</text>
<text x="485.21" y="663.23" font-size="6.2" text-anchor="middle" font-weight="normal" fill="#262626" transform="rotate(-90 485.2089265982636 663.2252722967639)" stroke="#262626" stroke-width="0.12">(IIR)</text>
<text x="494.29" y="663.23" font-size="6.2" text-anchor="middle" font-weight="normal" fill="#262626" transform="rotate(-90 494.2915627466456 663.2252722967639)" stroke="#262626" stroke-width="0.12">LSTM</text>
<text x="499.50" y="663.23" font-size="6.2" text-anchor="middle" font-weight="normal" fill="#262626" transform="rotate(-90 499.49621941594313 663.2252722967639)" stroke="#262626" stroke-width="0.12">(FIR)</text>
<rect x="515.4" y="493.3" width="10.0" height="151.8" fill="url(#go)"/>
<rect x="525.4" y="493.3" width="10.0" height="151.8" fill="url(#gb)"/>
<rect x="515.4" y="493.3" width="20.0" height="6.7" fill="#c8c8c8"/>
<rect x="515.4" y="493.3" width="20.0" height="151.8" fill="none" stroke="#7a7a7a" stroke-width="0.9"/>
<line x1="525.4" y1="493.3" x2="525.4" y2="645.1" stroke="#7a7a7a" stroke-width="0.9"/>
<text x="539.30" y="494.60" font-size="7.3" text-anchor="start" font-weight="normal" fill="#262626">10<tspan font-size="4.5" dy="-3.1">0</tspan></text>
<line x1="533.8" y1="523.66" x2="535.4" y2="523.66" stroke="#555" stroke-width="0.9"/>
<text x="539.30" y="524.96" font-size="7.3" text-anchor="start" font-weight="normal" fill="#262626">10<tspan font-size="4.5" dy="-3.1">-4</tspan></text>
<line x1="533.8" y1="554.02" x2="535.4" y2="554.02" stroke="#555" stroke-width="0.9"/>
<text x="539.30" y="555.32" font-size="7.3" text-anchor="start" font-weight="normal" fill="#262626">10<tspan font-size="4.5" dy="-3.1">-8</tspan></text>
<line x1="533.8" y1="584.38" x2="535.4" y2="584.38" stroke="#555" stroke-width="0.9"/>
<text x="539.30" y="585.68" font-size="7.3" text-anchor="start" font-weight="normal" fill="#262626">10<tspan font-size="4.5" dy="-3.1">-12</tspan></text>
<line x1="533.8" y1="614.74" x2="535.4" y2="614.74" stroke="#555" stroke-width="0.9"/>
<text x="539.30" y="616.04" font-size="7.3" text-anchor="start" font-weight="normal" fill="#262626">10<tspan font-size="4.5" dy="-3.1">-16</tspan></text>
<text x="539.30" y="646.40" font-size="7.3" text-anchor="start" font-weight="normal" fill="#262626">&lt;10<tspan font-size="4.5" dy="-3.1">-20</tspan></text>
<text x="566.60" y="569.50" font-size="9" text-anchor="middle" font-weight="normal" fill="#262626" transform="rotate(90 566.6 569.5)" font-style="italic">p</text>
<text x="578.40" y="34.80" font-size="9.1" text-anchor="start" font-weight="normal" fill="#262626">Wilcoxon signed-rank test:</text>
<rect x="578.4" y="40.1" width="27.4" height="13.5" fill="url(#lo)"/>
<rect x="578.4" y="56.6" width="27.4" height="13.5" fill="url(#lb)"/>
<rect x="578.4" y="73.1" width="27.4" height="13.5" fill="#c8c8c8"/>
<text x="610.30" y="49.90" font-size="9.1" text-anchor="start" font-weight="normal" fill="#262626">Row &gt; column</text>
<text x="610.30" y="66.30" font-size="9.1" text-anchor="start" font-weight="normal" fill="#262626">Row &lt; column</text>
<text x="610.30" y="82.50" font-size="9.1" text-anchor="start" font-weight="normal" fill="#262626" letter-spacing="0.08">Not significant</text>
<text x="-0.30" y="11.40" font-size="14" text-anchor="start" font-weight="bold" fill="#000" stroke="#000" stroke-width="0.45">a</text>
<text x="322.80" y="11.60" font-size="14" text-anchor="start" font-weight="bold" fill="#000" stroke="#000" stroke-width="0.45">b</text>
<text x="-0.30" y="245.60" font-size="14" text-anchor="start" font-weight="bold" fill="#000" stroke="#000" stroke-width="0.45">c</text>
<text x="322.80" y="245.80" font-size="14" text-anchor="start" font-weight="bold" fill="#000" stroke="#000" stroke-width="0.45">d</text>
<text x="-0.30" y="480.60" font-size="14" text-anchor="start" font-weight="bold" fill="#000" stroke="#000" stroke-width="0.45">e</text>
<text x="322.80" y="480.40" font-size="14" text-anchor="start" font-weight="bold" fill="#000" stroke="#000" stroke-width="0.45">f</text>
</svg></body></html>
